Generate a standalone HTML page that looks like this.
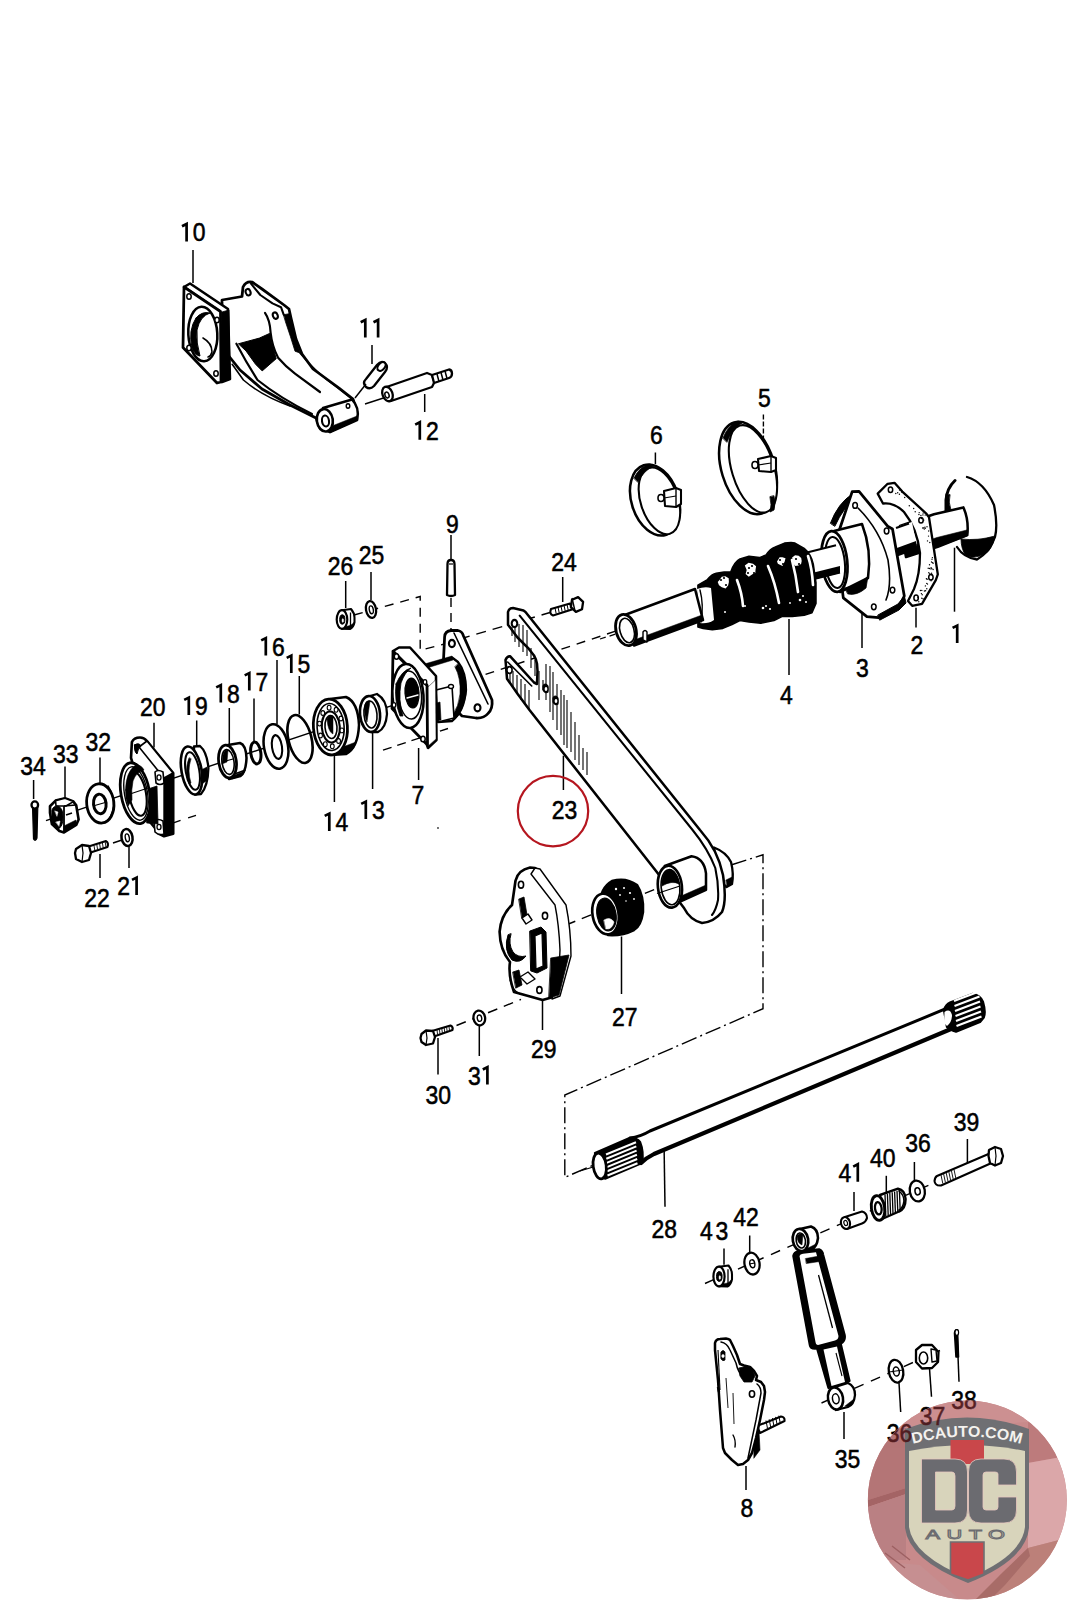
<!DOCTYPE html>
<html><head><meta charset="utf-8"><title>Rear axle parts diagram</title>
<style>
html,body{margin:0;padding:0;background:#fff;}
body{width:1067px;height:1600px;overflow:hidden;}
svg{display:block;}
text.l{font-family:"Liberation Sans",sans-serif;font-size:25.5px;text-anchor:middle;stroke:#000;stroke-width:0.55px;}
text.m{font-family:"Liberation Sans",sans-serif;font-size:25.5px;text-anchor:middle;stroke:#4a1518;stroke-width:0.55px;}
</style></head><body>
<svg width="1067" height="1600" viewBox="0 0 1067 1600">
<rect width="1067" height="1600" fill="#fff"/>
<line x1="193" y1="250" x2="193" y2="283" stroke="#000" stroke-width="1.5" stroke-linecap="butt"/>
<line x1="372" y1="345" x2="372" y2="364" stroke="#000" stroke-width="1.5" stroke-linecap="butt"/>
<line x1="424.7" y1="394" x2="424.7" y2="412" stroke="#000" stroke-width="1.5" stroke-linecap="butt"/>
<line x1="655.4" y1="452.5" x2="655.4" y2="464" stroke="#000" stroke-width="1.5" stroke-linecap="butt"/>
<line x1="954.5" y1="547.7" x2="954.5" y2="611.7" stroke="#000" stroke-width="1.5" stroke-linecap="butt"/>
<line x1="916" y1="607.8" x2="916" y2="627.4" stroke="#000" stroke-width="1.5" stroke-linecap="butt"/>
<line x1="862" y1="611.7" x2="862" y2="648" stroke="#000" stroke-width="1.5" stroke-linecap="butt"/>
<line x1="789" y1="619" x2="789" y2="675" stroke="#000" stroke-width="1.5" stroke-linecap="butt"/>
<line x1="451" y1="535" x2="451" y2="560" stroke="#000" stroke-width="1.5" stroke-linecap="butt"/>
<line x1="345.7" y1="581" x2="345.7" y2="608" stroke="#000" stroke-width="1.5" stroke-linecap="butt"/>
<line x1="371" y1="572" x2="371" y2="600" stroke="#000" stroke-width="1.5" stroke-linecap="butt"/>
<line x1="562.7" y1="577" x2="562.7" y2="602" stroke="#000" stroke-width="1.5" stroke-linecap="butt"/>
<line x1="277" y1="660" x2="277" y2="724" stroke="#000" stroke-width="1.5" stroke-linecap="butt"/>
<line x1="299.3" y1="676" x2="299.3" y2="714.5" stroke="#000" stroke-width="1.5" stroke-linecap="butt"/>
<line x1="254" y1="698.5" x2="254" y2="741.5" stroke="#000" stroke-width="1.5" stroke-linecap="butt"/>
<line x1="334.4" y1="756" x2="334.4" y2="802" stroke="#000" stroke-width="1.5" stroke-linecap="butt"/>
<line x1="372.6" y1="730" x2="372.6" y2="789" stroke="#000" stroke-width="1.5" stroke-linecap="butt"/>
<line x1="33.6" y1="780" x2="33.6" y2="799" stroke="#000" stroke-width="1.5" stroke-linecap="butt"/>
<line x1="65" y1="766.6" x2="65" y2="797" stroke="#000" stroke-width="1.5" stroke-linecap="butt"/>
<line x1="100" y1="757.6" x2="100" y2="783.5" stroke="#000" stroke-width="1.5" stroke-linecap="butt"/>
<line x1="154" y1="722.7" x2="154" y2="747.5" stroke="#000" stroke-width="1.5" stroke-linecap="butt"/>
<line x1="196.7" y1="720.5" x2="196.7" y2="747.5" stroke="#000" stroke-width="1.5" stroke-linecap="butt"/>
<line x1="229.3" y1="708" x2="229.3" y2="745" stroke="#000" stroke-width="1.5" stroke-linecap="butt"/>
<line x1="100" y1="854" x2="100" y2="878" stroke="#000" stroke-width="1.5" stroke-linecap="butt"/>
<line x1="129" y1="842" x2="129" y2="868" stroke="#000" stroke-width="1.5" stroke-linecap="butt"/>
<line x1="563.4" y1="755.7" x2="563.4" y2="790" stroke="#000" stroke-width="1.5" stroke-linecap="butt"/>
<line x1="621.5" y1="936.5" x2="621.5" y2="994" stroke="#000" stroke-width="1.5" stroke-linecap="butt"/>
<line x1="542.5" y1="1000" x2="542.5" y2="1030" stroke="#000" stroke-width="1.5" stroke-linecap="butt"/>
<line x1="438" y1="1038" x2="438" y2="1074.5" stroke="#000" stroke-width="1.5" stroke-linecap="butt"/>
<line x1="479.3" y1="1025.5" x2="479.3" y2="1056" stroke="#000" stroke-width="1.5" stroke-linecap="butt"/>
<line x1="664" y1="1141.5" x2="665" y2="1206.7" stroke="#000" stroke-width="1.5" stroke-linecap="butt"/>
<line x1="967.4" y1="1139" x2="967.4" y2="1166.6" stroke="#000" stroke-width="1.5" stroke-linecap="butt"/>
<line x1="914.4" y1="1162" x2="914.4" y2="1180" stroke="#000" stroke-width="1.5" stroke-linecap="butt"/>
<line x1="886.3" y1="1175.8" x2="886.3" y2="1193" stroke="#000" stroke-width="1.5" stroke-linecap="butt"/>
<line x1="854" y1="1192" x2="854" y2="1211" stroke="#000" stroke-width="1.5" stroke-linecap="butt"/>
<line x1="724" y1="1248.4" x2="724" y2="1264.8" stroke="#000" stroke-width="1.5" stroke-linecap="butt"/>
<line x1="749.7" y1="1235.5" x2="749.7" y2="1253" stroke="#000" stroke-width="1.5" stroke-linecap="butt"/>
<line x1="844" y1="1412" x2="844" y2="1439" stroke="#000" stroke-width="1.5" stroke-linecap="butt"/>
<line x1="746" y1="1466" x2="746" y2="1490" stroke="#000" stroke-width="1.5" stroke-linecap="butt"/>
<line x1="418.6" y1="748" x2="418.6" y2="780" stroke="#000" stroke-width="1.5" stroke-linecap="butt"/>
<line x1="899" y1="1383" x2="900.7" y2="1412" stroke="#000" stroke-width="1.5" stroke-linecap="butt"/>
<line x1="929.5" y1="1368.5" x2="931.5" y2="1396.8" stroke="#000" stroke-width="1.5" stroke-linecap="butt"/>
<line x1="957" y1="1330.5" x2="959" y2="1381.7" stroke="#000" stroke-width="1.5" stroke-linecap="butt"/>
<line x1="763.4" y1="414.6" x2="763.4" y2="440.7" stroke="#000" stroke-width="1.4" stroke-dasharray="5,2" stroke-linecap="butt"/>
<line x1="46" y1="820.6" x2="440" y2="689.5556" stroke="#000" stroke-width="1.4" stroke-linecap="butt"/>
<line x1="440" y1="689.5556" x2="616" y2="631.018" stroke="#000" stroke-width="1.4" stroke-dasharray="9,7" stroke-linecap="butt"/>
<line x1="113" y1="843" x2="128" y2="838" stroke="#000" stroke-width="1.4" stroke-linecap="butt"/>
<line x1="172" y1="823.3" x2="196" y2="815.3" stroke="#000" stroke-width="1.4" stroke-dasharray="9,8" stroke-linecap="butt"/>
<line x1="383" y1="750.2" x2="448" y2="728.5" stroke="#000" stroke-width="1.4" stroke-dasharray="9,6" stroke-linecap="butt"/>
<polyline points="354,615 420.2,596.5 420.2,650.2 444.6,644" fill="none" stroke="#000" stroke-width="1.4" stroke-dasharray="9,7"/>
<line x1="451" y1="598" x2="451" y2="688" stroke="#000" stroke-width="1.4" stroke-dasharray="9,6" stroke-linecap="butt"/>
<line x1="460" y1="639" x2="550" y2="612.5" stroke="#000" stroke-width="1.4" stroke-dasharray="10,7" stroke-linecap="butt"/>
<line x1="566" y1="925" x2="668" y2="884" stroke="#000" stroke-width="1.4" stroke-dasharray="10,7" stroke-linecap="butt"/>
<line x1="456.5" y1="1025.5" x2="521" y2="999.4" stroke="#000" stroke-width="1.4" stroke-dasharray="10,7" stroke-linecap="butt"/>
<polyline points="731,865 763,854.8 763,1008.7 564.8,1095 564.8,1177.4 594,1164.8" fill="none" stroke="#000" stroke-width="1.4" stroke-dasharray="16,4,2,4"/>
<line x1="705" y1="1283.5" x2="936" y2="1182" stroke="#000" stroke-width="1.4" stroke-dasharray="10,8" stroke-linecap="butt"/>
<line x1="821.5" y1="1403" x2="940" y2="1350.5" stroke="#000" stroke-width="1.4" stroke-dasharray="10,8" stroke-linecap="butt"/>
<path d="M222,300 L242,296.5 L243,287 Q246,281 252,282 L262,289 L284,305 L289,309 L291,318 L296,339 L302,354 L313,369 L339,388 L353,399 L357,412 L357,420 L330,432 L320,428 L316,418 L290,405 L262,389 L240,370 L228,355 L222,340 Z" fill="#fff" stroke="#000" stroke-width="2.76" stroke-linejoin="round" stroke-linecap="round" />
<path d="M238.7,343.7 L259.4,338.1 L269.7,333.4 Q271,340 272.5,345.6 L276.2,358.7 L262.2,370.9 L255.6,364.3 L246.2,351.2 Z" fill="#000" stroke="#000" stroke-width="1.0" stroke-linejoin="round" stroke-linecap="round" />
<path d="M283.7,314.7 L289.4,313.7 L293.1,326.9 L297.8,345.6 L300,353 L295,351.2 L290.3,336.2 L285.6,322.2 Z" fill="#000" stroke="#000" stroke-width="0.8" stroke-linejoin="round" stroke-linecap="round" />
<path d="M265,312.8 Q270,320 270.6,332.5 Q272,346 278.1,357.8 Q286,367 295,373.7 L320,392" fill="none" stroke="#000" stroke-width="2.18" stroke-linejoin="round" stroke-linecap="round" />
<path d="M236.4,343.7 Q246,362 257.5,380 Q280,398 312,414" fill="none" stroke="#000" stroke-width="2.18" stroke-linejoin="round" stroke-linecap="round" />
<path d="M232.2,364.3 L243.4,380 Q262,396 290,406" fill="none" stroke="#000" stroke-width="1.6" stroke-linejoin="round" stroke-linecap="round" />
<path d="M251,283.7 L260.3,295 L272.5,303.4 L281,307.2 L283.7,314.7" fill="none" stroke="#000" stroke-width="2.07" stroke-linejoin="round" stroke-linecap="round" />
<path d="M300,353 Q315,372 338,388 L352,399" fill="none" stroke="#000" stroke-width="1.6" stroke-linejoin="round" stroke-linecap="round" />
<ellipse cx="248.1" cy="292.2" rx="2.4" ry="3.3" transform="rotate(-20 248.1 292.2)" fill="#fff" stroke="#000" stroke-width="2.07"/>
<ellipse cx="275.3" cy="315.6" rx="2.4" ry="3.3" transform="rotate(-20 275.3 315.6)" fill="#fff" stroke="#000" stroke-width="2.07"/>
<path d="M323,408 L352,399.5 Q360,408 357,419 L330,431.5 Z" fill="#fff" stroke="#000" stroke-width="2.53" stroke-linejoin="round" stroke-linecap="round" />
<path d="M331,431 L357,420 L357,416 L332,426 Z" fill="#000" stroke="#000" stroke-width="0.5" stroke-linejoin="round" stroke-linecap="round" />
<ellipse cx="324.8" cy="420.3" rx="8" ry="11.3" transform="rotate(-8 324.8 420.3)" fill="#fff" stroke="#000" stroke-width="2.64"/>
<ellipse cx="325.5" cy="421" rx="3.5" ry="5.5" transform="rotate(-8 325.5 421)" fill="#fff" stroke="#000" stroke-width="2.07"/>
<ellipse cx="348" cy="406" rx="1.8" ry="2.2" transform="rotate(0 348 406)" fill="#fff" stroke="#000" stroke-width="1.4"/>
<path d="M184,287 L190,283.5 L228,309 L230,379 L222,382 L220,311.5 Z" fill="#fff" stroke="#000" stroke-width="2.53" stroke-linejoin="round" stroke-linecap="round" />
<path d="M222,312 L229,310 L230,379 L222,382 Z" fill="#000" stroke="#000" stroke-width="0.8" stroke-linejoin="round" stroke-linecap="round" />
<path d="M184,287 L220.5,311.5 L221,382 L217,383 L183,347.5 Z" fill="#fff" stroke="#000" stroke-width="2.76" stroke-linejoin="round" stroke-linecap="round" />
<ellipse cx="202.8" cy="334" rx="14.5" ry="27.2" transform="rotate(-3 202.8 334)" fill="#fff" stroke="#000" stroke-width="2.53"/>
<path d="M196,318 Q188,330 192,348 Q196,356 200,356 Q196,343 197,330 Q200,316 210,313 Q202,311 196,318 Z" fill="#000" stroke="#000" stroke-width="1" stroke-linejoin="round" stroke-linecap="round" />
<path d="M203,338 Q212,343 212,352 Q211,356 208,357" fill="none" stroke="#000" stroke-width="1.6" stroke-linejoin="round" stroke-linecap="round" />
<ellipse cx="189" cy="296.5" rx="2.2" ry="2.8" transform="rotate(0 189 296.5)" fill="#fff" stroke="#000" stroke-width="1.5"/>
<ellipse cx="217" cy="320" rx="2.2" ry="2.8" transform="rotate(0 217 320)" fill="#fff" stroke="#000" stroke-width="1.5"/>
<ellipse cx="189" cy="348" rx="2.2" ry="2.8" transform="rotate(0 189 348)" fill="#fff" stroke="#000" stroke-width="1.5"/>
<ellipse cx="216" cy="373.5" rx="2.2" ry="2.8" transform="rotate(0 216 373.5)" fill="#fff" stroke="#000" stroke-width="1.5"/>
<path d="M366,379 L377,365 Q381,360 385,363 Q389,367 385,372 L374,386 Q370,390 366,387 Q362,383 366,379 Z" fill="#fff" stroke="#000" stroke-width="2.3" stroke-linejoin="round" stroke-linecap="round" />
<ellipse cx="381.5" cy="366.5" rx="3.2" ry="5" transform="rotate(40 381.5 366.5)" fill="#fff" stroke="#000" stroke-width="2.07"/>
<line x1="366" y1="384" x2="355" y2="398" stroke="#000" stroke-width="1.5" stroke-linecap="butt"/>
<path d="M386.5,387 L427,373 L432,375 L434.5,382 L432,387 L391,401 Z" fill="#fff" stroke="#000" stroke-width="2.3" stroke-linejoin="round" stroke-linecap="round" />
<path d="M432,375 L449,369.5 Q452,370 452,373.5 Q452,377 449,378 L434,383 Z" fill="#fff" stroke="#000" stroke-width="2.3" stroke-linejoin="round" stroke-linecap="round" />
<line x1="437" y1="374" x2="439" y2="381.5" stroke="#000" stroke-width="1.5" stroke-linecap="butt"/>
<line x1="441" y1="372.5" x2="443" y2="380" stroke="#000" stroke-width="1.5" stroke-linecap="butt"/>
<line x1="445" y1="371" x2="447" y2="378.5" stroke="#000" stroke-width="1.5" stroke-linecap="butt"/>
<ellipse cx="387.5" cy="394" rx="5" ry="7.5" transform="rotate(-20 387.5 394)" fill="#fff" stroke="#000" stroke-width="2.3"/>
<ellipse cx="387" cy="395" rx="2" ry="3" transform="rotate(-20 387 395)" fill="#fff" stroke="#000" stroke-width="1.5"/>
<line x1="365" y1="404" x2="385" y2="397.5" stroke="#000" stroke-width="1.4" stroke-linecap="butt"/>
<ellipse cx="655" cy="500" rx="23.5" ry="36.5" transform="rotate(-18 655 500)" fill="#fff" stroke="#000" stroke-width="2.53"/>
<ellipse cx="659.4" cy="500.8" rx="18.7" ry="34.5" transform="rotate(-18 659.4 500.8)" fill="#fff" stroke="#000" stroke-width="2.07"/>
<path d="M634,478 Q640,466 650,464 L654,466 Q644,470 638,482 Z" fill="#000" stroke="#000" stroke-width="0.8" stroke-linejoin="round" stroke-linecap="round" />
<path d="M664,491 L676,488 L681,490 L681,504 L676,507 L665,506 Z" fill="#fff" stroke="#000" stroke-width="2.07" stroke-linejoin="round" stroke-linecap="round" />
<line x1="676" y1="488" x2="676" y2="507" stroke="#000" stroke-width="1.4" stroke-linecap="butt"/>
<ellipse cx="661" cy="498" rx="3" ry="3.5" transform="rotate(0 661 498)" fill="#fff" stroke="#000" stroke-width="1.6"/>
<line x1="664" y1="498" x2="676" y2="496" stroke="#000" stroke-width="1.2" stroke-linecap="butt"/>
<ellipse cx="748" cy="468" rx="26.5" ry="47.5" transform="rotate(-17 748 468)" fill="#fff" stroke="#000" stroke-width="2.53"/>
<ellipse cx="752.95" cy="468.9" rx="21.1" ry="45.25" transform="rotate(-17 752.95 468.9)" fill="#fff" stroke="#000" stroke-width="2.07"/>
<path d="M723,438 Q728,425 738,421 L742,423 Q732,429 727,442 Z" fill="#000" stroke="#000" stroke-width="0.8" stroke-linejoin="round" stroke-linecap="round" />
<path d="M770,497 Q772,505 770,512 L774,510 Q776,503 774,496 Z" fill="#000" stroke="#000" stroke-width="0.8" stroke-linejoin="round" stroke-linecap="round" />
<path d="M758,459 L771,456 L776,458 L776,470 L771,472 L759,471 Z" fill="#fff" stroke="#000" stroke-width="2.07" stroke-linejoin="round" stroke-linecap="round" />
<line x1="771" y1="456" x2="771" y2="472" stroke="#000" stroke-width="1.4" stroke-linecap="butt"/>
<ellipse cx="755" cy="465" rx="3" ry="3.5" transform="rotate(0 755 465)" fill="#fff" stroke="#000" stroke-width="1.6"/>
<line x1="758" y1="465" x2="771" y2="463" stroke="#000" stroke-width="1.2" stroke-linecap="butt"/>
<path d="M946,494 Q950,482 967,477 Q984,482 994,505 Q998,525 995,537 Q990,552 977,559.5 Q964,558 957,547 L950,520 Z" fill="#fff" stroke="none" stroke-width="0" stroke-linejoin="round" stroke-linecap="round" />
<path d="M967,477 Q984,482 994,505 Q998,525 995,537 Q990,552 977,559.5 Q964,558 957,547" fill="none" stroke="#000" stroke-width="2.3" stroke-linejoin="round" stroke-linecap="round" />
<path d="M955,480.5 Q947,488 946,500 L946,512" fill="none" stroke="#000" stroke-width="2.99" stroke-linejoin="round" stroke-linecap="round" />
<path d="M961,539 Q978,541 995,536 Q992,550 985,554 Q975,559 966,556 Q961,549 961,539 Z" fill="#000" stroke="#000" stroke-width="0.8" stroke-linejoin="round" stroke-linecap="round" />
<path d="M946,494 Q944,502 948,512 L951,510 Q948,502 950,495 Z" fill="#000" stroke="#000" stroke-width="0.8" stroke-linejoin="round" stroke-linecap="round" />
<path d="M900,526 L934,514.3 L963.4,507.4 Q969,520 967.3,535 L937.8,546.8 L906,557 Z" fill="#fff" stroke="#000" stroke-width="2.53" stroke-linejoin="round" stroke-linecap="round" />
<path d="M906,548 L937,537.5 L967,530 L967.3,536 L937.8,546.8 L906,557 Z" fill="#000" stroke="#000" stroke-width="0.6" stroke-linejoin="round" stroke-linecap="round" />
<path d="M877.7,493.6 L887.6,483.8 L894.5,482.8 L902.3,491.6 L926,513.3 L929,517.2 L937.8,574.3 L935.8,580.2 L922,603.8 L912.2,605.8 L908,601 L914,589 Q920,575 920,553 Q917,528 904,512 Q894,502 883,503.5 Z" fill="#fff" stroke="#000" stroke-width="2.3" stroke-linejoin="round" stroke-linecap="round" fill-rule="evenodd"/>
<ellipse cx="890.5" cy="489.7" rx="2.2" ry="2.8" transform="rotate(0 890.5 489.7)" fill="#fff" stroke="#000" stroke-width="1.5"/>
<ellipse cx="921" cy="520.2" rx="2.2" ry="2.8" transform="rotate(0 921 520.2)" fill="#fff" stroke="#000" stroke-width="1.5"/>
<ellipse cx="930.9" cy="577.3" rx="2.2" ry="2.8" transform="rotate(0 930.9 577.3)" fill="#fff" stroke="#000" stroke-width="1.5"/>
<ellipse cx="916.1" cy="597.9" rx="2.2" ry="2.8" transform="rotate(0 916.1 597.9)" fill="#fff" stroke="#000" stroke-width="1.5"/>
<circle cx="922.9" cy="514.9" r="0.7" fill="#000"/>
<circle cx="931.1" cy="567.8" r="0.7" fill="#000"/>
<circle cx="899.5" cy="490.0" r="0.7" fill="#000"/>
<circle cx="925.2" cy="515.1" r="0.7" fill="#000"/>
<circle cx="924.4" cy="591.0" r="0.7" fill="#000"/>
<circle cx="913.7" cy="508.5" r="0.7" fill="#000"/>
<circle cx="933.1" cy="563.3" r="0.7" fill="#000"/>
<circle cx="904.7" cy="497.5" r="0.7" fill="#000"/>
<circle cx="922.8" cy="528.0" r="0.7" fill="#000"/>
<circle cx="932.4" cy="557.6" r="0.7" fill="#000"/>
<circle cx="931.1" cy="580.8" r="0.7" fill="#000"/>
<circle cx="925.6" cy="590.7" r="0.7" fill="#000"/>
<circle cx="920.4" cy="590.5" r="0.7" fill="#000"/>
<circle cx="923.1" cy="513.1" r="0.7" fill="#000"/>
<circle cx="928.8" cy="572.7" r="0.7" fill="#000"/>
<circle cx="927.5" cy="540.9" r="0.7" fill="#000"/>
<circle cx="933.1" cy="569.5" r="0.7" fill="#000"/>
<circle cx="923.0" cy="598.7" r="0.7" fill="#000"/>
<circle cx="927.2" cy="579.3" r="0.7" fill="#000"/>
<circle cx="921.8" cy="598.3" r="0.7" fill="#000"/>
<circle cx="926.8" cy="583.4" r="0.7" fill="#000"/>
<circle cx="929.5" cy="564.7" r="0.7" fill="#000"/>
<circle cx="926.8" cy="588.8" r="0.7" fill="#000"/>
<circle cx="925.4" cy="585.9" r="0.7" fill="#000"/>
<circle cx="927.0" cy="526.8" r="0.7" fill="#000"/>
<circle cx="901.6" cy="492.0" r="0.7" fill="#000"/>
<circle cx="927.5" cy="584.1" r="0.7" fill="#000"/>
<circle cx="918.8" cy="601.8" r="0.7" fill="#000"/>
<circle cx="923.4" cy="527.9" r="0.7" fill="#000"/>
<circle cx="897.7" cy="492.8" r="0.7" fill="#000"/>
<circle cx="928.2" cy="568.3" r="0.7" fill="#000"/>
<circle cx="922.2" cy="594.8" r="0.7" fill="#000"/>
<circle cx="921.4" cy="593.6" r="0.7" fill="#000"/>
<circle cx="932.5" cy="562.6" r="0.7" fill="#000"/>
<circle cx="931.8" cy="568.6" r="0.7" fill="#000"/>
<circle cx="931.5" cy="562.0" r="0.7" fill="#000"/>
<circle cx="921.4" cy="518.5" r="0.7" fill="#000"/>
<circle cx="932.0" cy="559.2" r="0.7" fill="#000"/>
<circle cx="929.8" cy="542.5" r="0.7" fill="#000"/>
<circle cx="930.9" cy="568.9" r="0.7" fill="#000"/>
<circle cx="929.8" cy="573.8" r="0.7" fill="#000"/>
<circle cx="928.5" cy="536.1" r="0.7" fill="#000"/>
<circle cx="895.8" cy="493.5" r="0.7" fill="#000"/>
<circle cx="918.0" cy="597.5" r="0.7" fill="#000"/>
<circle cx="929.4" cy="568.5" r="0.7" fill="#000"/>
<circle cx="925.2" cy="528.4" r="0.7" fill="#000"/>
<circle cx="924.9" cy="527.3" r="0.7" fill="#000"/>
<circle cx="899.4" cy="494.3" r="0.7" fill="#000"/>
<circle cx="924.3" cy="529.1" r="0.7" fill="#000"/>
<circle cx="920.9" cy="515.4" r="0.7" fill="#000"/>
<circle cx="926.4" cy="578.7" r="0.7" fill="#000"/>
<circle cx="928.7" cy="531.0" r="0.7" fill="#000"/>
<circle cx="921.8" cy="590.4" r="0.7" fill="#000"/>
<circle cx="931.9" cy="574.7" r="0.7" fill="#000"/>
<circle cx="918.9" cy="514.5" r="0.7" fill="#000"/>
<circle cx="919.2" cy="512.6" r="0.7" fill="#000"/>
<circle cx="915.2" cy="511.7" r="0.7" fill="#000"/>
<circle cx="931.6" cy="573.3" r="0.7" fill="#000"/>
<circle cx="909.3" cy="505.8" r="0.7" fill="#000"/>
<circle cx="923.8" cy="520.1" r="0.7" fill="#000"/>
<path d="M884,531 L912,522 L917,548 L889,558 Z" fill="#fff" stroke="none" stroke-width="0" stroke-linejoin="round" stroke-linecap="round" />
<line x1="896" y1="528" x2="909" y2="523.5" stroke="#000" stroke-width="2.2" stroke-linecap="butt"/>
<path d="M886,552 L916,541 L917.5,549 L888,560 Z" fill="#000" stroke="none" stroke-width="0" stroke-linejoin="round" stroke-linecap="round" />
<path d="M830.5,523 Q838,503 853,493.6 L856,497 Q843,508 835,526 Z" fill="#000" stroke="#000" stroke-width="1" stroke-linejoin="round" stroke-linecap="round" />
<path d="M852.2,491.6 L859,491.3 L887.6,526.1 L892.5,529 L904.3,596 L898.4,607.8 L878.7,617.6 L866.9,616.6 L843.3,597.9 L836,540 Z" fill="#fff" stroke="#000" stroke-width="2.76" stroke-linejoin="round" stroke-linecap="round" />
<path d="M878,615 L898,604 L904.3,596 L906,603 L899,610 L880,620 Z" fill="#000" stroke="#000" stroke-width="1" stroke-linejoin="round" stroke-linecap="round" />
<ellipse cx="855.1" cy="505.4" rx="2.3" ry="2.9" transform="rotate(0 855.1 505.4)" fill="#fff" stroke="#000" stroke-width="1.5"/>
<ellipse cx="886.6" cy="531" rx="2.3" ry="2.9" transform="rotate(0 886.6 531)" fill="#fff" stroke="#000" stroke-width="1.5"/>
<ellipse cx="873.8" cy="606.8" rx="2.3" ry="2.9" transform="rotate(0 873.8 606.8)" fill="#fff" stroke="#000" stroke-width="1.5"/>
<ellipse cx="892.5" cy="590.1" rx="2.3" ry="2.9" transform="rotate(0 892.5 590.1)" fill="#fff" stroke="#000" stroke-width="1.5"/>
<path d="M858,508 Q880,530 888,560 Q892,585 886,600" fill="none" stroke="#000" stroke-width="1.6" stroke-linejoin="round" stroke-linecap="round" />
<path d="M834,531 L862,524 Q872,550 868,578 L840,592 Z" fill="#fff" stroke="#000" stroke-width="2.53" stroke-linejoin="round" stroke-linecap="round" />
<path d="M845,588 Q860,585 868,576 L866,588 Q857,596 848,594 Z" fill="#000" stroke="#000" stroke-width="0.8" stroke-linejoin="round" stroke-linecap="round" />
<ellipse cx="834.4" cy="561.5" rx="12.8" ry="30.5" transform="rotate(-6 834.4 561.5)" fill="#fff" stroke="#000" stroke-width="2.76"/>
<ellipse cx="835" cy="562.5" rx="9.8" ry="25.6" transform="rotate(-6 835 562.5)" fill="#fff" stroke="#000" stroke-width="2.07"/>
<path d="M808,552.3 L836,545 L840,573 L812,580 Z" fill="#fff" stroke="none" stroke-width="0" stroke-linejoin="round" stroke-linecap="round" />
<line x1="808" y1="552.3" x2="836" y2="545.3" stroke="#000" stroke-width="2.2" stroke-linecap="butt"/>
<line x1="812" y1="579.5" x2="840" y2="572.5" stroke="#000" stroke-width="2.2" stroke-linecap="butt"/>
<path d="M812,573 L840,566 L840,573 L812,580 Z" fill="#000" stroke="none" stroke-width="0" stroke-linejoin="round" stroke-linecap="round" />
<path d="M697.9,585.1 L707,580 Q712,574 716.2,573.3 L724.1,572 L730.7,572 Q734,562 739.9,558.9 L749,556.2 L759.5,557.6 L766.1,554.9 Q770,549 775.3,547 L784.5,543.1 L791,542.5 L795,543.1 L804.2,548.4 Q811,554 813.3,564.1 L816,582.5 L816,603.5 L812,612.7 L804.2,615.3 L792.3,616.6 L781.9,616.6 L774,620.5 L760.9,623.2 L749,621.9 L739.9,620.5 L732,624.5 L722.8,628.4 L712.3,629.7 L703.1,628.4 L697.9,627.1 Z" fill="#000" stroke="#000" stroke-width="1.5" stroke-linejoin="round" stroke-linecap="round" />
<path d="M737,580 Q742,593 743,606" fill="none" stroke="#fff" stroke-width="2.64" stroke-linejoin="round" stroke-linecap="round" />
<path d="M768,566 Q775,582 779,603" fill="none" stroke="#fff" stroke-width="2.64" stroke-linejoin="round" stroke-linecap="round" />
<path d="M792,560 Q796,575 798,592" fill="none" stroke="#fff" stroke-width="2.64" stroke-linejoin="round" stroke-linecap="round" />
<path d="M808,556 Q812,568 813,585" fill="none" stroke="#fff" stroke-width="2.64" stroke-linejoin="round" stroke-linecap="round" />
<polygon points="728.9,582.0 728.1,585.4 725.6,588.6 721.8,587.2 719.0,585.3 717.7,582.0 719.9,579.4 721.8,576.7 725.3,576.3 728.7,578.2" fill="#fff"/>
<polygon points="755.5,570.0 755.3,573.1 752.4,574.3 748.8,576.7 745.6,573.9 746.7,570.0 744.8,565.5 748.6,562.8 753.0,563.8 756.1,566.3" fill="#fff"/>
<polygon points="784.7,561.5 783.7,563.5 782.5,566.0 779.9,564.8 777.9,563.8 777.0,561.5 778.3,559.5 779.6,557.2 782.4,557.2 785.5,558.2" fill="#fff"/>
<polygon points="801.7,561.0 801.1,564.0 798.4,565.4 795.4,565.9 793.3,563.7 792.9,561.0 792.1,557.5 795.1,555.3 798.7,555.7 801.2,557.9" fill="#fff"/>
<circle cx="721" cy="580" r="1.1" fill="#000"/>
<circle cx="726" cy="585" r="1.1" fill="#000"/>
<circle cx="724" cy="578" r="1.1" fill="#000"/>
<circle cx="749" cy="568" r="1.1" fill="#000"/>
<circle cx="754" cy="573" r="1.1" fill="#000"/>
<circle cx="752" cy="566" r="1.1" fill="#000"/>
<circle cx="748" cy="573" r="1.1" fill="#000"/>
<circle cx="780" cy="560" r="1.1" fill="#000"/>
<circle cx="783" cy="564" r="1.1" fill="#000"/>
<circle cx="796" cy="559" r="1.1" fill="#000"/>
<circle cx="799" cy="564" r="1.1" fill="#000"/>
<circle cx="763" cy="608" r="1.3" fill="#fff"/>
<circle cx="766" cy="606" r="1.0" fill="#fff"/>
<circle cx="770" cy="609" r="1.1" fill="#fff"/>
<circle cx="800" cy="600" r="1.3" fill="#fff"/>
<circle cx="803" cy="596" r="1.0" fill="#fff"/>
<circle cx="806" cy="602" r="1.0" fill="#fff"/>
<circle cx="745" cy="606" r="1.0" fill="#fff"/>
<circle cx="725" cy="612" r="1.0" fill="#fff"/>
<circle cx="790" cy="603" r="0.9" fill="#fff"/>
<path d="M697,589 Q705,586 711,588 L714,620 Q708,624 700,623 Z" fill="#fff" stroke="none" stroke-width="0" stroke-linejoin="round" stroke-linecap="round" />
<path d="M700,590 Q704,605 701,622" fill="none" stroke="#000" stroke-width="1.4" stroke-linejoin="round" stroke-linecap="round" />
<path d="M622,616 L695,589 L703,620 L634,645.5 Z" fill="#fff" stroke="#000" stroke-width="2.53" stroke-linejoin="round" stroke-linecap="round" />
<path d="M634,640 L702,615 L703,620 L634,645.5 Z" fill="#000" stroke="#000" stroke-width="0.5" stroke-linejoin="round" stroke-linecap="round" />
<ellipse cx="626" cy="630" rx="10" ry="16" transform="rotate(-15 626 630)" fill="#fff" stroke="#000" stroke-width="2.76"/>
<ellipse cx="627" cy="630.5" rx="7" ry="12.5" transform="rotate(-15 627 630.5)" fill="#fff" stroke="#000" stroke-width="1.6"/>
<path d="M643,640 L643,632 Q645,629 647,632 L647,642 Z" fill="#fff" stroke="#000" stroke-width="1.4" stroke-linejoin="round" stroke-linecap="round" />
<line x1="600" y1="639" x2="616" y2="634" stroke="#000" stroke-width="1.3" stroke-dasharray="6,4" stroke-linecap="butt"/>
<path d="M447.5,564 Q447.5,560 451,560 Q454.5,560 454.5,564 L455,595 Q451,597 447,595 Z" fill="#fff" stroke="#000" stroke-width="2.3" stroke-linejoin="round" stroke-linecap="round" />
<line x1="449" y1="564" x2="453" y2="564" stroke="#000" stroke-width="1.2" stroke-linecap="butt"/>
<path d="M342.0,610.2 L351.0,609.0 Q354.5,613.0 354.5,617.6 L354.5,622.3 Q353.5,627.4 350.0,629.0 L342.0,628.8 Z" fill="#fff" stroke="#000" stroke-width="2.07" stroke-linejoin="round" stroke-linecap="round" />
<line x1="350.5" y1="612.5" x2="350.5" y2="626.5" stroke="#000" stroke-width="1.3" stroke-linecap="butt"/>
<path d="M344.0,626.9 L350.0,625.5 Q353.0,624.1 354.0,622.3 Q353.5,627.4 350.0,628.8 L342.0,628.8 Z" fill="#000" stroke="#000" stroke-width="0.5" stroke-linejoin="round" stroke-linecap="round" />
<ellipse cx="342" cy="619.5" rx="5.3" ry="9.3" transform="rotate(0 342 619.5)" fill="#fff" stroke="#000" stroke-width="2.18"/>
<ellipse cx="342.3" cy="619.5" rx="2.6" ry="4.7" transform="rotate(0 342.3 619.5)" fill="#000" stroke="#000" stroke-width="1.0"/>
<ellipse cx="342.8" cy="620.5" rx="0.8" ry="1.9" transform="rotate(0 342.8 620.5)" fill="#fff" stroke="#fff" stroke-width="0.4"/>
<ellipse cx="371" cy="609.5" rx="5" ry="8.5" transform="rotate(-10 371 609.5)" fill="#fff" stroke="#000" stroke-width="2.3"/>
<ellipse cx="371.3" cy="609.8" rx="2" ry="4" transform="rotate(-10 371.3 609.8)" fill="#fff" stroke="#000" stroke-width="1.4"/>
<path d="M551,609 L570,603.5 L572,609.5 L553,615.5 Q549,614 551,609 Z" fill="#fff" stroke="#000" stroke-width="2.07" stroke-linejoin="round" stroke-linecap="round" />
<line x1="555" y1="608.0" x2="556.2" y2="613.6" stroke="#000" stroke-width="1.0" stroke-linecap="butt"/>
<line x1="558" y1="607.1" x2="559.2" y2="612.7" stroke="#000" stroke-width="1.0" stroke-linecap="butt"/>
<line x1="561" y1="606.2" x2="562.2" y2="611.8000000000001" stroke="#000" stroke-width="1.0" stroke-linecap="butt"/>
<line x1="564" y1="605.3" x2="565.2" y2="610.9" stroke="#000" stroke-width="1.0" stroke-linecap="butt"/>
<line x1="567" y1="604.4" x2="568.2" y2="610.0" stroke="#000" stroke-width="1.0" stroke-linecap="butt"/>
<polygon points="582.0,609.3 575.9,611.9 570.9,607.1 572.0,599.7 578.1,597.1 583.1,601.9" fill="#fff" stroke="#000" stroke-width="2.3" stroke-linejoin="round"/>
<line x1="572" y1="598" x2="575" y2="611" stroke="#000" stroke-width="1.4" stroke-linecap="butt"/>
<path d="M444.6,637 Q445,631 451,630.5 L458,630.5 Q462,631 463.5,636 L492,700 Q493,709 488,713.5 Q484,718.5 476,718 L462,716 L446,700 L443.5,660 Z" fill="#fff" stroke="#000" stroke-width="2.76" stroke-linejoin="round" stroke-linecap="round" />
<path d="M454,633 L488,704" fill="none" stroke="#000" stroke-width="1.6" stroke-linejoin="round" stroke-linecap="round" />
<ellipse cx="451.9" cy="643.5" rx="3" ry="3.6" transform="rotate(0 451.9 643.5)" fill="#fff" stroke="#000" stroke-width="2.07"/>
<ellipse cx="477.5" cy="707.8" rx="3" ry="3.6" transform="rotate(0 477.5 707.8)" fill="#fff" stroke="#000" stroke-width="2.07"/>
<path d="M420,667 L452,657.5 L458,662 Q466,672 466,690 Q464,712 452,721 L438,722 L428,712 Z" fill="#fff" stroke="#000" stroke-width="2.3" stroke-linejoin="round" stroke-linecap="round" />
<path d="M421,665 L452,656 L453,660 L422,669.5 Z" fill="#000" stroke="#000" stroke-width="0.5" stroke-linejoin="round" stroke-linecap="round" />
<path d="M458,664 Q468,676 466,694 Q463,712 454,720 L452,716 Q459,706 460,694 Q461,678 455,667 Z" fill="#000" stroke="#000" stroke-width="0.6" stroke-linejoin="round" stroke-linecap="round" />
<path d="M436,690 L452,686 L454,718 L438,722 Z" fill="#fff" stroke="#000" stroke-width="1.6" stroke-linejoin="round" stroke-linecap="round" />
<path d="M430,705 L440,702 L441,720 L432,722 Z" fill="#000" stroke="#000" stroke-width="0.6" stroke-linejoin="round" stroke-linecap="round" />
<ellipse cx="451" cy="686.5" rx="2.5" ry="2" transform="rotate(0 451 686.5)" fill="#fff" stroke="#000" stroke-width="1.4"/>
<path d="M393,651 L399,647.5 L410,647.5 L436,676 L436.5,740 L428,748 L427,745 L427,685 Z" fill="#fff" stroke="#000" stroke-width="2.53" stroke-linejoin="round" stroke-linecap="round" />
<path d="M428,687 L435.5,680 L436,739 L428,746 Z" fill="#fff" stroke="#000" stroke-width="0.5" stroke-linejoin="round" stroke-linecap="round" />
<path d="M393,651.5 L427,685.5 L427.5,745 L392,708.5 Z" fill="#fff" stroke="#000" stroke-width="2.76" stroke-linejoin="round" stroke-linecap="round" />
<ellipse cx="408" cy="696" rx="15.5" ry="32" transform="rotate(-4 408 696)" fill="#fff" stroke="#000" stroke-width="2.53"/>
<path d="M396,684 Q394,700 400,716 L403,716 Q398,700 401,683 Q405,672 411,668 Q402,670 396,684 Z" fill="#000" stroke="#000" stroke-width="0.8" stroke-linejoin="round" stroke-linecap="round" />
<ellipse cx="412" cy="693" rx="7" ry="15" transform="rotate(-4 412 693)" fill="#000" stroke="#000" stroke-width="1.2"/>
<path d="M407,698 L418,695" fill="none" stroke="#fff" stroke-width="1.3" stroke-linejoin="round" stroke-linecap="round" />
<ellipse cx="410" cy="695" rx="11.5" ry="24" transform="rotate(-4 410 695)" fill="none" stroke="#000" stroke-width="1.5"/>
<ellipse cx="396.5" cy="656.5" rx="2.2" ry="2.8" transform="rotate(0 396.5 656.5)" fill="#fff" stroke="#000" stroke-width="1.5"/>
<ellipse cx="423" cy="739" rx="2.2" ry="2.8" transform="rotate(0 423 739)" fill="#fff" stroke="#000" stroke-width="1.5"/>
<ellipse cx="425" cy="682" rx="1.8" ry="2.4" transform="rotate(0 425 682)" fill="#fff" stroke="#000" stroke-width="1.3"/>
<ellipse cx="394" cy="705" rx="1.8" ry="2.4" transform="rotate(0 394 705)" fill="#fff" stroke="#000" stroke-width="1.3"/>
<path d="M714,847.5 Q726,852 731,862 Q734,874 732,884 L726.6,887 L718,880 Z" fill="#fff" stroke="#000" stroke-width="2.3" stroke-linejoin="round" stroke-linecap="round" />
<path d="M726,880 L732,877 L732,884 L727,887 Z" fill="#000" stroke="#000" stroke-width="0.5" stroke-linejoin="round" stroke-linecap="round" />
<path d="M508,612 Q509,608 513,608 L523.5,610.5 L525.5,612 L700,830 Q718,850 723,875 Q727,900 722,912 Q714,922 702,923 Q690,920 684,908 L657,872.3 L529.5,710 L517.5,693.7 L507,678.7 L505.5,660 Q507,656 510,656.2 L534,682.5 L537,684 L537.5,671 L537,663.7 Q536,659 534,655.5 L528.7,648.7 L517.5,637.5 L508,624.7 Z" fill="#fff" stroke="#000" stroke-width="2.53" stroke-linejoin="round" stroke-linecap="round" />
<path d="M519.7,615.7 L692.6,830 Q708,849 715.3,868 Q719,885 718,900 Q716,910 712,915" fill="none" stroke="#000" stroke-width="2.07" stroke-linejoin="round" stroke-linecap="round" />
<path d="M507.7,662 L531.7,686" fill="none" stroke="#000" stroke-width="1.6" stroke-linejoin="round" stroke-linecap="round" />
<line x1="512" y1="627" x2="512" y2="636" stroke="#000" stroke-width="1.1" stroke-linecap="butt"/>
<line x1="515" y1="627" x2="515" y2="642" stroke="#000" stroke-width="1.1" stroke-linecap="butt"/>
<line x1="519" y1="624" x2="519" y2="647" stroke="#000" stroke-width="1.1" stroke-linecap="butt"/>
<line x1="523" y1="625" x2="523" y2="652" stroke="#000" stroke-width="1.1" stroke-linecap="butt"/>
<line x1="527" y1="630" x2="527" y2="656" stroke="#000" stroke-width="1.1" stroke-linecap="butt"/>
<line x1="531" y1="648" x2="531" y2="668" stroke="#000" stroke-width="1.1" stroke-linecap="butt"/>
<line x1="535" y1="660" x2="535" y2="676" stroke="#000" stroke-width="1.1" stroke-linecap="butt"/>
<line x1="539" y1="671" x2="539" y2="700" stroke="#000" stroke-width="1.1" stroke-linecap="butt"/>
<line x1="543" y1="680" x2="543" y2="690" stroke="#000" stroke-width="1.1" stroke-linecap="butt"/>
<line x1="546" y1="664" x2="546" y2="700" stroke="#000" stroke-width="1.1" stroke-linecap="butt"/>
<line x1="550" y1="666" x2="550" y2="712" stroke="#000" stroke-width="1.1" stroke-linecap="butt"/>
<line x1="553" y1="672" x2="553" y2="720" stroke="#000" stroke-width="1.1" stroke-linecap="butt"/>
<line x1="557" y1="684" x2="557" y2="730" stroke="#000" stroke-width="1.1" stroke-linecap="butt"/>
<line x1="561" y1="690" x2="561" y2="735" stroke="#000" stroke-width="1.1" stroke-linecap="butt"/>
<line x1="564" y1="695" x2="564" y2="745" stroke="#000" stroke-width="1.1" stroke-linecap="butt"/>
<line x1="567" y1="700" x2="567" y2="748" stroke="#000" stroke-width="1.1" stroke-linecap="butt"/>
<line x1="571" y1="712" x2="571" y2="752" stroke="#000" stroke-width="1.1" stroke-linecap="butt"/>
<line x1="575" y1="722" x2="575" y2="760" stroke="#000" stroke-width="1.1" stroke-linecap="butt"/>
<line x1="579" y1="735" x2="579" y2="765" stroke="#000" stroke-width="1.1" stroke-linecap="butt"/>
<line x1="583" y1="748" x2="583" y2="770" stroke="#000" stroke-width="1.1" stroke-linecap="butt"/>
<line x1="587" y1="752" x2="587" y2="775" stroke="#000" stroke-width="1.1" stroke-linecap="butt"/>
<line x1="510" y1="667" x2="510" y2="682" stroke="#000" stroke-width="1.1" stroke-linecap="butt"/>
<line x1="513" y1="671" x2="513" y2="688" stroke="#000" stroke-width="1.1" stroke-linecap="butt"/>
<line x1="517" y1="675" x2="517" y2="694" stroke="#000" stroke-width="1.1" stroke-linecap="butt"/>
<line x1="521" y1="679" x2="521" y2="700" stroke="#000" stroke-width="1.1" stroke-linecap="butt"/>
<line x1="525" y1="684" x2="525" y2="705" stroke="#000" stroke-width="1.1" stroke-linecap="butt"/>
<line x1="529" y1="690" x2="529" y2="710" stroke="#000" stroke-width="1.1" stroke-linecap="butt"/>
<ellipse cx="514.5" cy="623.5" rx="2.8" ry="3.6" transform="rotate(0 514.5 623.5)" fill="#fff" stroke="#000" stroke-width="2.07"/>
<ellipse cx="509.5" cy="670" rx="2.6" ry="3.4" transform="rotate(0 509.5 670)" fill="#fff" stroke="#000" stroke-width="1.6"/>
<path d="M543,686 Q545,682 548,686 L548,692 Q545,694 543,690 Z" fill="#000" stroke="#000" stroke-width="1.2" stroke-linejoin="round" stroke-linecap="round" />
<path d="M553,698 Q555,694 558,698 L558,704 Q555,706 553,702 Z" fill="#000" stroke="#000" stroke-width="1.2" stroke-linejoin="round" stroke-linecap="round" />
<ellipse cx="546" cy="689" rx="2" ry="2.6" transform="rotate(0 546 689)" fill="#fff" stroke="#000" stroke-width="1.2"/>
<ellipse cx="556" cy="701" rx="2" ry="2.6" transform="rotate(0 556 701)" fill="#fff" stroke="#000" stroke-width="1.2"/>
<path d="M664.7,866 L691.5,856.3 Q704,858 706,873.3 L706,889.8 L681.2,901.1 Z" fill="#fff" stroke="#000" stroke-width="2.53" stroke-linejoin="round" stroke-linecap="round" />
<path d="M681,896 L706,885 L706,889.8 L681.2,901.1 Z" fill="#000" stroke="#000" stroke-width="0.5" stroke-linejoin="round" stroke-linecap="round" />
<ellipse cx="669.9" cy="886.7" rx="12" ry="21" transform="rotate(-6 669.9 886.7)" fill="#fff" stroke="#000" stroke-width="2.64"/>
<ellipse cx="670.5" cy="887.2" rx="9.3" ry="17.6" transform="rotate(-6 670.5 887.2)" fill="#fff" stroke="#000" stroke-width="1.6"/>
<path d="M662,880 Q664,868 672,870 Q678,874 679,884 Q672,880 662,886 Z" fill="#000" stroke="#000" stroke-width="0.6" stroke-linejoin="round" stroke-linecap="round" />
<line x1="657" y1="893.5" x2="680" y2="886" stroke="#000" stroke-width="1.2" stroke-linecap="butt"/>
<circle cx="553" cy="811.1" r="35.2" fill="none" stroke="#b5161f" stroke-width="2.2"/>
<path d="M370,696 L377,694 Q387,700 387,714 Q386,728 378,732 L371,732 Z" fill="#fff" stroke="#000" stroke-width="2.3" stroke-linejoin="round" stroke-linecap="round" />
<ellipse cx="370" cy="714" rx="10" ry="18" transform="rotate(-5 370 714)" fill="#fff" stroke="#000" stroke-width="2.64"/>
<ellipse cx="370.5" cy="714.5" rx="6.5" ry="13.5" transform="rotate(-5 370.5 714.5)" fill="#fff" stroke="#000" stroke-width="1.6"/>
<path d="M365,705 Q366,700 370,701 L367,722 Q364,716 365,705 Z" fill="#000" stroke="#000" stroke-width="0.5" stroke-linejoin="round" stroke-linecap="round" />
<path d="M330,699 L346,697 Q358,702 359,725 Q358,748 346,754 L330,755 Z" fill="#fff" stroke="#000" stroke-width="2.53" stroke-linejoin="round" stroke-linecap="round" />
<path d="M340,748 L356,742 Q354,751 346,754 L332,755 Z" fill="#000" stroke="#000" stroke-width="0.5" stroke-linejoin="round" stroke-linecap="round" />
<ellipse cx="330.4" cy="727" rx="17" ry="28" transform="rotate(-4 330.4 727)" fill="#fff" stroke="#000" stroke-width="2.76"/>
<ellipse cx="330.6" cy="727" rx="13.5" ry="23.5" transform="rotate(-4 330.6 727)" fill="#fff" stroke="#000" stroke-width="1.6"/>
<ellipse cx="330.8" cy="727" rx="9" ry="15.5" transform="rotate(-4 330.8 727)" fill="#fff" stroke="#000" stroke-width="2.07"/>
<ellipse cx="331" cy="727" rx="6" ry="11.5" transform="rotate(-4 331 727)" fill="#fff" stroke="#000" stroke-width="1.6"/>
<path d="M327,719 Q329,714 333,716 L333,734 Q328,732 327,719 Z" fill="#000" stroke="#000" stroke-width="0.5" stroke-linejoin="round" stroke-linecap="round" />
<ellipse cx="341.9" cy="730.4" rx="1.9" ry="2.4" fill="#fff" stroke="#000" stroke-width="1.1"/>
<ellipse cx="338.6" cy="741.0" rx="1.9" ry="2.4" fill="#fff" stroke="#000" stroke-width="1.1"/>
<ellipse cx="332.3" cy="746.3" rx="1.9" ry="2.4" fill="#fff" stroke="#000" stroke-width="1.1"/>
<ellipse cx="325.3" cy="744.2" rx="1.9" ry="2.4" fill="#fff" stroke="#000" stroke-width="1.1"/>
<ellipse cx="320.5" cy="735.5" rx="1.9" ry="2.4" fill="#fff" stroke="#000" stroke-width="1.1"/>
<ellipse cx="319.5" cy="723.6" rx="1.9" ry="2.4" fill="#fff" stroke="#000" stroke-width="1.1"/>
<ellipse cx="322.8" cy="713.0" rx="1.9" ry="2.4" fill="#fff" stroke="#000" stroke-width="1.1"/>
<ellipse cx="329.1" cy="707.7" rx="1.9" ry="2.4" fill="#fff" stroke="#000" stroke-width="1.1"/>
<ellipse cx="336.1" cy="709.8" rx="1.9" ry="2.4" fill="#fff" stroke="#000" stroke-width="1.1"/>
<ellipse cx="340.9" cy="718.5" rx="1.9" ry="2.4" fill="#fff" stroke="#000" stroke-width="1.1"/>
<ellipse cx="300" cy="739" rx="11.5" ry="24.5" transform="rotate(-14 300 739)" fill="none" stroke="#000" stroke-width="2.64"/>
<ellipse cx="276" cy="746.5" rx="12" ry="22.5" transform="rotate(-10 276 746.5)" fill="#fff" stroke="#000" stroke-width="2.53"/>
<ellipse cx="277" cy="747" rx="5" ry="12" transform="rotate(-8 277 747)" fill="#fff" stroke="#000" stroke-width="2.07"/>
<ellipse cx="255.8" cy="753" rx="5" ry="11" transform="rotate(-8 255.8 753)" fill="none" stroke="#000" stroke-width="2.99"/>
<path d="M228,745 L240,743 Q246,745 246.5,758 Q246,772 240.5,776 L229,779 Z" fill="#fff" stroke="#000" stroke-width="2.53" stroke-linejoin="round" stroke-linecap="round" />
<path d="M232,776 L245,771 Q244,775 240.5,776 L232,779 Z" fill="#000" stroke="#000" stroke-width="0.5" stroke-linejoin="round" stroke-linecap="round" />
<line x1="236" y1="773.5" x2="245.5" y2="770" stroke="#000" stroke-width="1.6" stroke-linecap="butt"/>
<ellipse cx="227.5" cy="761.5" rx="8.8" ry="16.5" transform="rotate(-8 227.5 761.5)" fill="#fff" stroke="#000" stroke-width="2.76"/>
<ellipse cx="228" cy="762" rx="6" ry="12.5" transform="rotate(-8 228 762)" fill="#fff" stroke="#000" stroke-width="1.6"/>
<path d="M223,755 Q224,750 228,750 L227,762 L222,764 Z" fill="#000" stroke="#000" stroke-width="0.5" stroke-linejoin="round" stroke-linecap="round" />
<line x1="222" y1="762" x2="233" y2="759" stroke="#000" stroke-width="1.2" stroke-linecap="butt"/>
<path d="M194,746.5 L200,746 Q207,752 208.4,768 Q208,786 201,794 L195,794.7 Z" fill="#fff" stroke="#000" stroke-width="2.3" stroke-linejoin="round" stroke-linecap="round" />
<path d="M201,770 L207,767 L207.5,780 L202,784 Z" fill="#000" stroke="#000" stroke-width="0.5" stroke-linejoin="round" stroke-linecap="round" />
<ellipse cx="191.5" cy="770.5" rx="10" ry="24.3" transform="rotate(-10 191.5 770.5)" fill="#fff" stroke="#000" stroke-width="2.64"/>
<ellipse cx="192.5" cy="771" rx="6.8" ry="19" transform="rotate(-10 192.5 771)" fill="#fff" stroke="#000" stroke-width="2.07"/>
<path d="M189,758 Q184,770 189,784 L191,783 Q187,771 191,759 Z" fill="#000" stroke="#000" stroke-width="0.6" stroke-linejoin="round" stroke-linecap="round" />
<path d="M131.9,742 Q134,737.5 140,737.5 Q144,737.5 147,741 L173.2,773 L173.2,833.7 L164,836.2 L160.6,834.6 L150,822 L131,757.8 Z" fill="#fff" stroke="#000" stroke-width="2.64" stroke-linejoin="round" stroke-linecap="round" />
<path d="M164,778 L173.2,773 L173.2,833.7 L164,836.2 Z" fill="#000" stroke="#000" stroke-width="0.8" stroke-linejoin="round" stroke-linecap="round" />
<path d="M147,741 L173,773 L164,778 L139,747 Z" fill="#fff" stroke="#000" stroke-width="1.6" stroke-linejoin="round" stroke-linecap="round" />
<path d="M134.5,745 Q139,742 141,746 Q138,748 137,754 Q134,752 134.5,745 Z" fill="#000" stroke="#000" stroke-width="1" stroke-linejoin="round" stroke-linecap="round" />
<path d="M155,772 Q158,769 163,772 L164,783 Q160,786 156,783 Z" fill="#fff" stroke="#000" stroke-width="1.6" stroke-linejoin="round" stroke-linecap="round" />
<ellipse cx="159" cy="777.5" rx="2" ry="2.6" transform="rotate(0 159 777.5)" fill="#fff" stroke="#000" stroke-width="1.3"/>
<path d="M154,821 Q158,818 163,821 L164,834 Q159,836 155,832 Z" fill="#fff" stroke="#000" stroke-width="1.6" stroke-linejoin="round" stroke-linecap="round" />
<ellipse cx="159" cy="827" rx="2" ry="2.6" transform="rotate(0 159 827)" fill="#fff" stroke="#000" stroke-width="1.3"/>
<path d="M145,790 L157,786 L158,824 L147,823 Z" fill="#000" stroke="#000" stroke-width="0.8" stroke-linejoin="round" stroke-linecap="round" />
<ellipse cx="135.3" cy="793.2" rx="14.3" ry="30.8" transform="rotate(-10 135.3 793.2)" fill="#fff" stroke="#000" stroke-width="2.76"/>
<ellipse cx="136" cy="793.5" rx="11.5" ry="27" transform="rotate(-10 136 793.5)" fill="#fff" stroke="#000" stroke-width="1.4"/>
<ellipse cx="137.5" cy="794" rx="8.5" ry="22" transform="rotate(-10 137.5 794)" fill="#fff" stroke="#000" stroke-width="2.07"/>
<path d="M125.5,790 Q126,772 135,765.5 Q141,764 144,770 Q136,772 133,781 Q131,790 132,800 L128,806 Q125,798 125.5,790 Z" fill="#000" stroke="#000" stroke-width="0.6" stroke-linejoin="round" stroke-linecap="round" />
<line x1="127" y1="795" x2="148" y2="788" stroke="#000" stroke-width="1.2" stroke-linecap="butt"/>
<ellipse cx="100.3" cy="803.4" rx="13.6" ry="19.7" transform="rotate(-6 100.3 803.4)" fill="#fff" stroke="#000" stroke-width="2.76"/>
<path d="M108,786 Q114,795 113.5,806 Q112,818 105,822" fill="none" stroke="#000" stroke-width="1.4" stroke-linejoin="round" stroke-linecap="round" />
<ellipse cx="99.8" cy="803.9" rx="6.3" ry="9.8" transform="rotate(-6 99.8 803.9)" fill="#fff" stroke="#000" stroke-width="2.99"/>
<line x1="93" y1="806" x2="107" y2="802" stroke="#000" stroke-width="1.2" stroke-linecap="butt"/>
<path d="M50,806.2 L55.6,800.6 L65,798.3 L73.4,801.6 L76.2,805.3 L78.6,819.4 L76.2,825 L64,832.5 L59.4,831 L51.9,824 L50,812.8 Z" fill="#fff" stroke="#000" stroke-width="2.64" stroke-linejoin="round" stroke-linecap="round" />
<path d="M55.6,800.6 L65,798.3 L73.4,801.6 L66,806 L56,806 Z" fill="#fff" stroke="#000" stroke-width="1.6" stroke-linejoin="round" stroke-linecap="round" />
<line x1="64" y1="806" x2="64" y2="832" stroke="#000" stroke-width="1.8" stroke-linecap="butt"/>
<line x1="64" y1="806" x2="76" y2="805" stroke="#000" stroke-width="1.4" stroke-linecap="butt"/>
<path d="M52,810 Q53,806 58,806 Q63,808 63,817 Q63,827 58,829 Q53,828 52,820 Z" fill="#000" stroke="#000" stroke-width="1" stroke-linejoin="round" stroke-linecap="round" />
<path d="M55,811 L58,812 L57,816 Z" fill="#fff" stroke="#fff" stroke-width="0.5" stroke-linejoin="round" stroke-linecap="round" />
<path d="M56,822 L60,821 L59,826 Z" fill="#fff" stroke="#fff" stroke-width="0.5" stroke-linejoin="round" stroke-linecap="round" />
<line x1="66" y1="815" x2="72" y2="813" stroke="#000" stroke-width="1.6" stroke-linecap="butt"/>
<path d="M64,826 L76,820 L76.2,825 L64,832.5 Z" fill="#000" stroke="#000" stroke-width="0.6" stroke-linejoin="round" stroke-linecap="round" />
<path d="M32.5,806 Q33,802 35.5,802 Q38,803 37.8,807 L37,838 Q35.5,842 33.5,839 Z" fill="#000" stroke="#000" stroke-width="1.2" stroke-linejoin="round" stroke-linecap="round" />
<ellipse cx="34.8" cy="805" rx="3.3" ry="3.6" transform="rotate(0 34.8 805)" fill="#fff" stroke="#000" stroke-width="2.3"/>
<ellipse cx="127" cy="837.5" rx="5.5" ry="8.5" transform="rotate(-10 127 837.5)" fill="#fff" stroke="#000" stroke-width="2.53"/>
<ellipse cx="127.3" cy="837.8" rx="2" ry="4" transform="rotate(-10 127.3 837.8)" fill="#fff" stroke="#000" stroke-width="1.4"/>
<path d="M87,847 L106,841 Q109,843 107.5,847 L89,853 Z" fill="#fff" stroke="#000" stroke-width="2.07" stroke-linejoin="round" stroke-linecap="round" />
<line x1="94.0" y1="845.5" x2="94.8" y2="850.5" stroke="#000" stroke-width="0.9" stroke-linecap="butt"/>
<line x1="96.8" y1="844.6" x2="97.6" y2="849.6" stroke="#000" stroke-width="0.9" stroke-linecap="butt"/>
<line x1="99.6" y1="843.7" x2="100.39999999999999" y2="848.7" stroke="#000" stroke-width="0.9" stroke-linecap="butt"/>
<line x1="102.4" y1="842.8" x2="103.2" y2="847.8" stroke="#000" stroke-width="0.9" stroke-linecap="butt"/>
<line x1="105.2" y1="841.9" x2="106.0" y2="846.9" stroke="#000" stroke-width="0.9" stroke-linecap="butt"/>
<path d="M76,849 L82,845 L89,846 L91,853 L89,860 L82,862 L76,859 L75,853 Z" fill="#fff" stroke="#000" stroke-width="2.3" stroke-linejoin="round" stroke-linecap="round" />
<line x1="82" y1="845" x2="83" y2="853" stroke="#000" stroke-width="1.2" stroke-linecap="butt"/>
<line x1="83" y1="853" x2="82" y2="862" stroke="#000" stroke-width="1.2" stroke-linecap="butt"/>
<path d="M515.5,880.7 Q518,870 530,867.5 L535,868 L540,872 L565,906 Q569,925 569.7,955.6 L558.5,995.4 L542.6,1000 L514,992 Q508,975 510,962 Q500,950 499.6,931.7 Q501,915 512,905 Z" fill="#fff" stroke="#000" stroke-width="2.64" stroke-linejoin="round" stroke-linecap="round" />
<path d="M535,868 L540,869 L566,905 Q571,930 571,956 L560,996 L552,999 Q560,970 560,950 Q559,925 555,905 L531,874 Z" fill="#fff" stroke="#000" stroke-width="1.4" stroke-linejoin="round" stroke-linecap="round" />
<path d="M551,958 L569,955 L559,995 L549,998 Z" fill="#000" stroke="#000" stroke-width="0.8" stroke-linejoin="round" stroke-linecap="round" />
<ellipse cx="521" cy="884.7" rx="2.6" ry="3.4" transform="rotate(0 521 884.7)" fill="#fff" stroke="#000" stroke-width="1.6"/>
<ellipse cx="545" cy="915.8" rx="2.6" ry="3.4" transform="rotate(0 545 915.8)" fill="#fff" stroke="#000" stroke-width="1.6"/>
<ellipse cx="539.4" cy="990" rx="2.6" ry="3.4" transform="rotate(0 539.4 990)" fill="#fff" stroke="#000" stroke-width="1.6"/>
<path d="M519,899 L524,897 L527,915 L522,918 Z" fill="#000" stroke="#000" stroke-width="0.8" stroke-linejoin="round" stroke-linecap="round" />
<path d="M522,918 L528,914 L532,920 L526,924 Z" fill="#fff" stroke="#000" stroke-width="1.4" stroke-linejoin="round" stroke-linecap="round" />
<path d="M508,935 Q503,950 512,960 Q520,964 526,956 Q518,958 513,952 Q508,944 511,934 Z" fill="#000" stroke="#000" stroke-width="1" stroke-linejoin="round" stroke-linecap="round" />
<path d="M530,931 L541,927 L546,932 L547,968 L537,973 L531,971 Z" fill="#000" stroke="#000" stroke-width="1" stroke-linejoin="round" stroke-linecap="round" />
<path d="M535,936 L542,933 L543,966 L536,969 Z" fill="#fff" stroke="#000" stroke-width="1.2" stroke-linejoin="round" stroke-linecap="round" />
<path d="M513,972 L519,970 L522,985 L516,988 Z" fill="#000" stroke="#000" stroke-width="0.8" stroke-linejoin="round" stroke-linecap="round" />
<path d="M520,977 L528,972 L535,979 L527,984 Z" fill="#fff" stroke="#000" stroke-width="1.4" stroke-linejoin="round" stroke-linecap="round" />
<path d="M510,980 Q512,990 520,994" fill="none" stroke="#000" stroke-width="1.2" stroke-linejoin="round" stroke-linecap="round" />
<path d="M600,905 Q600,888 612,881 Q626,877 637,885 Q644,896 643,912 Q641,926 634,930 Q622,936 608,935 Z" fill="#000" stroke="#000" stroke-width="2.53" stroke-linejoin="round" stroke-linecap="round" />
<circle cx="616" cy="889" r="1.2" fill="#fff"/>
<circle cx="624" cy="888" r="1.0" fill="#fff"/>
<circle cx="630" cy="893" r="1.1" fill="#fff"/>
<circle cx="620" cy="895" r="0.9" fill="#fff"/>
<circle cx="634" cy="899" r="0.9" fill="#fff"/>
<circle cx="626" cy="901" r="0.8" fill="#fff"/>
<ellipse cx="605.5" cy="914" rx="13" ry="20.5" transform="rotate(-10 605.5 914)" fill="#fff" stroke="#000" stroke-width="2.64"/>
<ellipse cx="606.5" cy="914.5" rx="9.5" ry="16.5" transform="rotate(-10 606.5 914.5)" fill="#000" stroke="#000" stroke-width="1.2"/>
<path d="M604,920 Q610,916 614,922 Q612,930 606,929 Z" fill="#fff" stroke="#fff" stroke-width="0.5" stroke-linejoin="round" stroke-linecap="round" />
<ellipse cx="479.3" cy="1018" rx="5.8" ry="7.5" transform="rotate(-10 479.3 1018)" fill="#fff" stroke="#000" stroke-width="2.3"/>
<ellipse cx="479.5" cy="1018.2" rx="2.2" ry="3.2" transform="rotate(-10 479.5 1018.2)" fill="#fff" stroke="#000" stroke-width="1.4"/>
<path d="M432,1031 L450.5,1025.5 Q453.5,1027 452.5,1030 L434,1036.5 Z" fill="#fff" stroke="#000" stroke-width="2.07" stroke-linejoin="round" stroke-linecap="round" />
<line x1="437.0" y1="1030.0" x2="437.6" y2="1034.6" stroke="#000" stroke-width="0.9" stroke-linecap="butt"/>
<line x1="439.4" y1="1029.3" x2="440.0" y2="1033.8999999999999" stroke="#000" stroke-width="0.9" stroke-linecap="butt"/>
<line x1="441.8" y1="1028.6" x2="442.40000000000003" y2="1033.1999999999998" stroke="#000" stroke-width="0.9" stroke-linecap="butt"/>
<line x1="444.2" y1="1027.9" x2="444.8" y2="1032.5" stroke="#000" stroke-width="0.9" stroke-linecap="butt"/>
<line x1="446.6" y1="1027.2" x2="447.20000000000005" y2="1031.8" stroke="#000" stroke-width="0.9" stroke-linecap="butt"/>
<line x1="449.0" y1="1026.5" x2="449.6" y2="1031.1" stroke="#000" stroke-width="0.9" stroke-linecap="butt"/>
<path d="M421.5,1034 L426,1030.5 L433,1031 L435,1037 L433,1043.5 L426,1045 L421.5,1042 L420.5,1038 Z" fill="#fff" stroke="#000" stroke-width="2.3" stroke-linejoin="round" stroke-linecap="round" />
<line x1="426" y1="1030.5" x2="427" y2="1038" stroke="#000" stroke-width="1.2" stroke-linecap="butt"/>
<line x1="427" y1="1038" x2="426" y2="1045" stroke="#000" stroke-width="1.2" stroke-linecap="butt"/>
<path d="M636,1139 Q641,1137 646,1134 L944.7,1009.2 L951,1029 L648,1156 Q642,1160 639,1161 Z" fill="#fff" stroke="none" stroke-width="0" stroke-linejoin="round" stroke-linecap="round" />
<path d="M630,1138 Q640,1137 650,1131 L944.7,1009.2" fill="none" stroke="#000" stroke-width="2.99" stroke-linejoin="round" stroke-linecap="round" />
<path d="M641,1163 Q646,1158 654,1154 L951,1029" fill="none" stroke="#000" stroke-width="4.14" stroke-linejoin="round" stroke-linecap="round" />
<path d="M944,1010 Q946,1004 950,1002.5 L972.5,994 Q980,995 983,1002 Q986,1012 983.7,1017.5 L980,1022 L956,1031.7 Q950,1030 947,1027 Z" fill="#000" stroke="#000" stroke-width="2.3" stroke-linejoin="round" stroke-linecap="round" />
<line x1="954.0" y1="1001.0" x2="979.0" y2="991.4" stroke="#fff" stroke-width="2.1"/>
<line x1="954.5" y1="1006.0" x2="979.5" y2="996.4" stroke="#fff" stroke-width="2.1"/>
<line x1="955.0" y1="1011.0" x2="980.0" y2="1001.4" stroke="#fff" stroke-width="2.1"/>
<line x1="955.5" y1="1016.0" x2="980.5" y2="1006.4" stroke="#fff" stroke-width="2.1"/>
<line x1="956.0" y1="1021.0" x2="981.0" y2="1011.4" stroke="#fff" stroke-width="2.1"/>
<line x1="956.5" y1="1026.0" x2="981.5" y2="1016.4" stroke="#fff" stroke-width="2.1"/>
<path d="M944.5,1012 Q950,1008 952,1015 Q952,1022 947,1026 L944,1023 Z" fill="#fff" stroke="none" stroke-width="0" stroke-linejoin="round" stroke-linecap="round" />
<path d="M595,1153 L629.5,1138 Q636,1137 640,1142 Q644,1152 642,1163 L605,1178.6 Z" fill="#000" stroke="#000" stroke-width="2.3" stroke-linejoin="round" stroke-linecap="round" />
<line x1="606.0" y1="1154.5" x2="636.0" y2="1142.2" stroke="#fff" stroke-width="2.0"/>
<line x1="606.3" y1="1158.7" x2="636.3" y2="1146.4" stroke="#fff" stroke-width="2.0"/>
<line x1="606.6" y1="1162.9" x2="636.6" y2="1150.6" stroke="#fff" stroke-width="2.0"/>
<line x1="606.9" y1="1167.1" x2="636.9" y2="1154.8" stroke="#fff" stroke-width="2.0"/>
<line x1="607.2" y1="1171.3" x2="637.2" y2="1159.0" stroke="#fff" stroke-width="2.0"/>
<line x1="607.5" y1="1175.5" x2="637.5" y2="1163.2" stroke="#fff" stroke-width="2.0"/>
<ellipse cx="599.7" cy="1166" rx="6.5" ry="13" transform="rotate(-8 599.7 1166)" fill="#fff" stroke="#000" stroke-width="2.76"/>
<line x1="580" y1="1171" x2="594" y2="1166.8" stroke="#000" stroke-width="1.2" stroke-linecap="butt"/>
<path d="M937,1176 L992,1152.5 L996,1161 L941,1185.5 Q935,1186 934.5,1181 Q935,1177 937,1176 Z" fill="#fff" stroke="#000" stroke-width="2.07" stroke-linejoin="round" stroke-linecap="round" />
<line x1="941.0" y1="1175.0" x2="942.8" y2="1183.5" stroke="#000" stroke-width="0.9" stroke-linecap="butt"/>
<line x1="943.6" y1="1173.9" x2="945.4" y2="1182.4" stroke="#000" stroke-width="0.9" stroke-linecap="butt"/>
<line x1="946.2" y1="1172.8" x2="948.0" y2="1181.3" stroke="#000" stroke-width="0.9" stroke-linecap="butt"/>
<line x1="948.8" y1="1171.7" x2="950.5999999999999" y2="1180.2" stroke="#000" stroke-width="0.9" stroke-linecap="butt"/>
<line x1="951.4" y1="1170.6" x2="953.1999999999999" y2="1179.1" stroke="#000" stroke-width="0.9" stroke-linecap="butt"/>
<line x1="954.0" y1="1169.5" x2="955.8" y2="1178.0" stroke="#000" stroke-width="0.9" stroke-linecap="butt"/>
<path d="M989,1150 L995,1147 L1001,1149 L1003,1156 L1001,1163 L995,1165.5 L990,1163 L988.5,1156 Z" fill="#fff" stroke="#000" stroke-width="2.3" stroke-linejoin="round" stroke-linecap="round" />
<line x1="995" y1="1147" x2="996" y2="1156" stroke="#000" stroke-width="1.2" stroke-linecap="butt"/>
<line x1="996" y1="1156" x2="995" y2="1165.5" stroke="#000" stroke-width="1.2" stroke-linecap="butt"/>
<ellipse cx="917.3" cy="1191" rx="7.5" ry="10.5" transform="rotate(-10 917.3 1191)" fill="#fff" stroke="#000" stroke-width="2.3"/>
<ellipse cx="917.6" cy="1191.3" rx="2.6" ry="3.6" transform="rotate(-10 917.6 1191.3)" fill="#fff" stroke="#000" stroke-width="1.5"/>
<path d="M880,1195 L898,1188.7 Q905,1190 905.6,1199 Q905.5,1209 899,1211.5 L882,1219 Z" fill="#fff" stroke="#000" stroke-width="2.42" stroke-linejoin="round" stroke-linecap="round" />
<line x1="885.0" y1="1194.5" x2="885.8" y2="1216.5" stroke="#000" stroke-width="1.3" stroke-linecap="butt"/>
<line x1="887.4" y1="1193.75" x2="888.1999999999999" y2="1215.6" stroke="#000" stroke-width="1.3" stroke-linecap="butt"/>
<line x1="889.8" y1="1193.0" x2="890.5999999999999" y2="1214.7" stroke="#000" stroke-width="1.3" stroke-linecap="butt"/>
<line x1="892.2" y1="1192.25" x2="893.0" y2="1213.8" stroke="#000" stroke-width="1.3" stroke-linecap="butt"/>
<line x1="894.6" y1="1191.5" x2="895.4" y2="1212.9" stroke="#000" stroke-width="1.3" stroke-linecap="butt"/>
<line x1="897.0" y1="1190.75" x2="897.8" y2="1212.0" stroke="#000" stroke-width="1.3" stroke-linecap="butt"/>
<line x1="899.4" y1="1190.0" x2="900.1999999999999" y2="1211.1" stroke="#000" stroke-width="1.3" stroke-linecap="butt"/>
<path d="M899,1191 Q904,1195 904,1201 Q903,1208 899,1210" fill="none" stroke="#000" stroke-width="1.6" stroke-linejoin="round" stroke-linecap="round" />
<ellipse cx="878" cy="1208" rx="6.6" ry="12.4" transform="rotate(-8 878 1208)" fill="#fff" stroke="#000" stroke-width="2.88"/>
<ellipse cx="878.3" cy="1208.3" rx="3.3" ry="6.2" transform="rotate(-8 878.3 1208.3)" fill="#fff" stroke="#000" stroke-width="2.3"/>
<path d="M845,1217 L862,1211.5 Q867,1213 867,1218 Q866,1222 862,1223.5 L847,1229 Z" fill="#fff" stroke="#000" stroke-width="2.07" stroke-linejoin="round" stroke-linecap="round" />
<ellipse cx="845.5" cy="1223" rx="4.5" ry="6" transform="rotate(-15 845.5 1223)" fill="#fff" stroke="#000" stroke-width="2.07"/>
<ellipse cx="845.7" cy="1223" rx="1.8" ry="2.6" transform="rotate(-15 845.7 1223)" fill="#fff" stroke="#000" stroke-width="1.2"/>
<path d="M719.0,1266.7 L728.5,1265.5 Q732.0,1269.6 732.0,1274.5 L732.0,1279.4 Q731.0,1284.8 727.5,1286.5 L719.0,1286.3 Z" fill="#fff" stroke="#000" stroke-width="2.07" stroke-linejoin="round" stroke-linecap="round" />
<line x1="728.0" y1="1269.2" x2="728.0" y2="1283.8" stroke="#000" stroke-width="1.3" stroke-linecap="butt"/>
<path d="M721.0,1284.3 L727.5,1282.9 Q730.5,1281.4 731.5,1279.4 Q731.0,1284.8 727.5,1286.3 L719.0,1286.3 Z" fill="#000" stroke="#000" stroke-width="0.5" stroke-linejoin="round" stroke-linecap="round" />
<ellipse cx="719" cy="1276.5" rx="5.6" ry="9.8" transform="rotate(0 719 1276.5)" fill="#fff" stroke="#000" stroke-width="2.18"/>
<ellipse cx="719.3" cy="1276.5" rx="2.8" ry="4.9" transform="rotate(0 719.3 1276.5)" fill="#000" stroke="#000" stroke-width="1.0"/>
<ellipse cx="719.8" cy="1277.5" rx="0.8" ry="2.0" transform="rotate(0 719.8 1277.5)" fill="#fff" stroke="#fff" stroke-width="0.4"/>
<ellipse cx="752" cy="1263.6" rx="7.5" ry="11" transform="rotate(-10 752 1263.6)" fill="#fff" stroke="#000" stroke-width="2.3"/>
<ellipse cx="752.3" cy="1263.8" rx="2.5" ry="4" transform="rotate(-10 752.3 1263.8)" fill="#fff" stroke="#000" stroke-width="1.4"/>
<line x1="749" y1="1264" x2="755" y2="1263" stroke="#000" stroke-width="1.2" stroke-linecap="butt"/>
<path d="M800,1229 L811,1226.5 Q818,1229 818,1238 Q817,1247 811,1250 L801,1251 Z" fill="#fff" stroke="#000" stroke-width="2.53" stroke-linejoin="round" stroke-linecap="round" />
<path d="M806,1249 L816,1244 Q815,1249 811,1250 Z" fill="#000" stroke="#000" stroke-width="0.5" stroke-linejoin="round" stroke-linecap="round" />
<path d="M793.5,1256 Q794,1252 799,1251.5 L819,1249.5 Q822.5,1251 823,1255 L844.5,1335 Q845.5,1341 841,1343.5 L815,1348.5 Q810.5,1348.5 810,1345 Z" fill="#000" stroke="#000" stroke-width="2.53" stroke-linejoin="round" stroke-linecap="round" />
<path d="M799.5,1256 Q800,1254 803,1253.8 L816,1252.3 L838.5,1336 Q838.5,1339.5 835,1340.5 L819,1344.8 Q816,1345.5 815.5,1342 Z" fill="#fff" stroke="none" stroke-width="0" stroke-linejoin="round" stroke-linecap="round" />
<path d="M805.6,1258.5 L819,1256 L819.8,1261.5 L806.5,1263.5 Z" fill="#000" stroke="#000" stroke-width="0.5" stroke-linejoin="round" stroke-linecap="round" />
<line x1="818.5" y1="1275" x2="832.5" y2="1328" stroke="#000" stroke-width="1.3" stroke-linecap="butt"/>
<path d="M817,1348 L840.5,1343 L849.5,1381 L828.5,1388 Z" fill="#000" stroke="#000" stroke-width="2.3" stroke-linejoin="round" stroke-linecap="round" />
<path d="M823.5,1349.5 L837,1346.5 L845,1382 L831.5,1386 Z" fill="#fff" stroke="none" stroke-width="0" stroke-linejoin="round" stroke-linecap="round" />
<line x1="836" y1="1353" x2="842" y2="1376" stroke="#000" stroke-width="1.1" stroke-linecap="butt"/>
<path d="M832,1388 L848,1383 Q855,1386 855,1395 Q854,1405 848,1407 L836,1410 Z" fill="#fff" stroke="#000" stroke-width="2.3" stroke-linejoin="round" stroke-linecap="round" />
<path d="M845,1406 L854,1399 Q853,1405 848,1407 Z" fill="#000" stroke="#000" stroke-width="0.5" stroke-linejoin="round" stroke-linecap="round" />
<ellipse cx="835.5" cy="1398.5" rx="7.5" ry="11.2" transform="rotate(-10 835.5 1398.5)" fill="#fff" stroke="#000" stroke-width="2.53"/>
<ellipse cx="835.8" cy="1398.8" rx="3.3" ry="5" transform="rotate(-10 835.8 1398.8)" fill="#fff" stroke="#000" stroke-width="1.5"/>
<ellipse cx="800.5" cy="1240" rx="7.7" ry="11.2" transform="rotate(-10 800.5 1240)" fill="#fff" stroke="#000" stroke-width="2.64"/>
<ellipse cx="800.8" cy="1240.5" rx="4.6" ry="7.6" transform="rotate(-10 800.8 1240.5)" fill="#fff" stroke="#000" stroke-width="1.6"/>
<path d="M797,1236 Q799,1233 803,1234 L802,1245 Q797,1243 797,1236 Z" fill="#000" stroke="#000" stroke-width="0.5" stroke-linejoin="round" stroke-linecap="round" />
<path d="M757,1426 L781,1416.5 Q785,1417 784.5,1421 L760,1433 Z" fill="#fff" stroke="#000" stroke-width="2.07" stroke-linejoin="round" stroke-linecap="round" />
<line x1="766.0" y1="1420.5" x2="767.5" y2="1428.5" stroke="#000" stroke-width="1.0" stroke-linecap="butt"/>
<line x1="769.2" y1="1419.3" x2="770.7" y2="1427.2" stroke="#000" stroke-width="1.0" stroke-linecap="butt"/>
<line x1="772.4" y1="1418.1" x2="773.9" y2="1425.9" stroke="#000" stroke-width="1.0" stroke-linecap="butt"/>
<line x1="775.6" y1="1416.9" x2="777.1" y2="1424.6" stroke="#000" stroke-width="1.0" stroke-linecap="butt"/>
<line x1="778.8" y1="1415.7" x2="780.3" y2="1423.3" stroke="#000" stroke-width="1.0" stroke-linecap="butt"/>
<path d="M754,1435 L759,1431 L760,1450 L754,1458 Z" fill="#000" stroke="#000" stroke-width="0.6" stroke-linejoin="round" stroke-linecap="round" />
<path d="M715,1343 Q716,1339 720,1339 L726,1338.5 Q729,1339 730,1340 L733,1346 L737,1355 L740,1364 L744,1365.5 L750,1367 L754,1371 L757,1376 L756,1380 L761,1382 L764,1386 L765,1392 L764,1400 L760,1420 L756,1438 L752,1453 L748,1460 L743,1464 L738,1465 L732,1460 L725,1453 L723,1448 L720,1410 L718,1380 L715,1350 Z" fill="#fff" stroke="#000" stroke-width="2.53" stroke-linejoin="round" stroke-linecap="round" />
<path d="M721,1342 Q727,1343 730,1350 L736,1363 Q738,1372 742,1375" fill="none" stroke="#000" stroke-width="1.5" stroke-linejoin="round" stroke-linecap="round" />
<path d="M757,1384 Q761,1387 761,1393 L756,1420 L748,1458" fill="none" stroke="#000" stroke-width="1.5" stroke-linejoin="round" stroke-linecap="round" />
<path d="M739,1368 L748,1366 L753,1371 L755,1376 L752,1382 L744,1382 L740,1376 Z" fill="#000" stroke="#000" stroke-width="0.8" stroke-linejoin="round" stroke-linecap="round" />
<ellipse cx="752" cy="1394" rx="2.6" ry="3.2" transform="rotate(0 752 1394)" fill="#fff" stroke="#000" stroke-width="1.6"/>
<path d="M721,1352 Q723,1349 725,1352 L725,1360 Q723,1362 721,1359 Z" fill="#000" stroke="#000" stroke-width="0.8" stroke-linejoin="round" stroke-linecap="round" />
<ellipse cx="723" cy="1356" rx="1.3" ry="1.6" transform="rotate(0 723 1356)" fill="#fff" stroke="#fff" stroke-width="0.5"/>
<line x1="718" y1="1350" x2="720" y2="1390" stroke="#000" stroke-width="1.1" stroke-linecap="butt"/>
<line x1="726" y1="1378" x2="728" y2="1408" stroke="#000" stroke-width="0.9" stroke-linecap="butt"/>
<line x1="733" y1="1393" x2="734" y2="1424" stroke="#000" stroke-width="0.9" stroke-linecap="butt"/>
<path d="M733,1435 Q736,1440 735,1447" fill="none" stroke="#000" stroke-width="1.4" stroke-linejoin="round" stroke-linecap="round" />
<line x1="718" y1="1387" x2="719" y2="1392" stroke="#000" stroke-width="2.5" stroke-linecap="butt"/>
<ellipse cx="896" cy="1371.2" rx="7.2" ry="11.5" transform="rotate(-10 896 1371.2)" fill="#fff" stroke="#000" stroke-width="2.3"/>
<ellipse cx="896.3" cy="1371.5" rx="3" ry="4.5" transform="rotate(-10 896.3 1371.5)" fill="#fff" stroke="#000" stroke-width="1.5"/>
<line x1="889" y1="1372" x2="903" y2="1370" stroke="#000" stroke-width="1.1" stroke-linecap="butt"/>
<path d="M916,1350 L922,1345 L932,1345 L938.5,1352 L938,1362 L932,1368 L922,1368.5 L916,1362 Z" fill="#fff" stroke="#000" stroke-width="2.3" stroke-linejoin="round" stroke-linecap="round" />
<ellipse cx="923.5" cy="1358" rx="4.2" ry="6" transform="rotate(0 923.5 1358)" fill="#fff" stroke="#000" stroke-width="1.6"/>
<path d="M931,1349 L936,1350 L937,1361 L932,1362 Z" fill="#fff" stroke="#000" stroke-width="1.4" stroke-linejoin="round" stroke-linecap="round" />
<path d="M954.5,1333 Q955,1329 957.5,1330 L958.5,1357 L956,1357 Z" fill="#000" stroke="#000" stroke-width="1.6" stroke-linejoin="round" stroke-linecap="round" />
<ellipse cx="956.8" cy="1332.5" rx="1.8" ry="2.8" transform="rotate(0 956.8 1332.5)" fill="#fff" stroke="#000" stroke-width="1.2"/>
<circle cx="438" cy="828" r="0.9" fill="#333"/>
<g>
<path d="M182.0,226.3 L186.6,224.0 L186.6,241.4" fill="none" stroke="#000" stroke-width="2.7" stroke-linejoin="miter"/>
<text class="l" transform="translate(199.2,241.4) scale(0.9,1)" fill="#000">0</text>
<path d="M360.7,322.3 L365.3,320.0 L365.3,337.4" fill="none" stroke="#000" stroke-width="2.7" stroke-linejoin="miter"/>
<path d="M373.5,322.3 L378.1,320.0 L378.1,337.4" fill="none" stroke="#000" stroke-width="2.7" stroke-linejoin="miter"/>
<path d="M415.2,424.6 L419.8,422.3 L419.8,439.7" fill="none" stroke="#000" stroke-width="2.7" stroke-linejoin="miter"/>
<text class="l" transform="translate(432.4,439.7) scale(0.9,1)" fill="#000">2</text>
<text class="l" transform="translate(656.5,444.0) scale(0.9,1)" fill="#000">6</text>
<text class="l" transform="translate(764.5,407.0) scale(0.9,1)" fill="#000">5</text>
<path d="M952.6,627.9 L957.2,625.6 L957.2,643.0" fill="none" stroke="#000" stroke-width="2.7" stroke-linejoin="miter"/>
<text class="l" transform="translate(917.0,654.0) scale(0.9,1)" fill="#000">2</text>
<text class="l" transform="translate(862.5,677.0) scale(0.9,1)" fill="#000">3</text>
<text class="l" transform="translate(786.5,704.0) scale(0.9,1)" fill="#000">4</text>
<text class="l" transform="translate(452.5,533.0) scale(0.9,1)" fill="#000">9</text>
<text class="l" transform="translate(340.5,575.0) scale(0.9,1)" fill="#000">26</text>
<text class="l" transform="translate(371.5,564.0) scale(0.9,1)" fill="#000">25</text>
<text class="l" transform="translate(564.0,571.0) scale(0.9,1)" fill="#000">24</text>
<path d="M261.2,640.4 L265.8,638.1 L265.8,655.5" fill="none" stroke="#000" stroke-width="2.7" stroke-linejoin="miter"/>
<text class="l" transform="translate(278.4,655.5) scale(0.9,1)" fill="#000">6</text>
<path d="M286.7,657.9 L291.3,655.6 L291.3,673.0" fill="none" stroke="#000" stroke-width="2.7" stroke-linejoin="miter"/>
<text class="l" transform="translate(303.9,673.0) scale(0.9,1)" fill="#000">5</text>
<path d="M244.7,675.4 L249.3,673.1 L249.3,690.5" fill="none" stroke="#000" stroke-width="2.7" stroke-linejoin="miter"/>
<text class="l" transform="translate(261.9,690.5) scale(0.9,1)" fill="#000">7</text>
<path d="M324.7,815.9 L329.3,813.6 L329.3,831.0" fill="none" stroke="#000" stroke-width="2.7" stroke-linejoin="miter"/>
<text class="l" transform="translate(341.9,831.0) scale(0.9,1)" fill="#000">4</text>
<path d="M361.2,803.9 L365.8,801.6 L365.8,819.0" fill="none" stroke="#000" stroke-width="2.7" stroke-linejoin="miter"/>
<text class="l" transform="translate(378.4,819.0) scale(0.9,1)" fill="#000">3</text>
<text class="l" transform="translate(418.0,804.0) scale(0.9,1)" fill="#000">7</text>
<text class="l" transform="translate(33.0,774.5) scale(0.9,1)" fill="#000">34</text>
<text class="l" transform="translate(65.7,763.0) scale(0.9,1)" fill="#000">33</text>
<text class="l" transform="translate(98.2,751.0) scale(0.9,1)" fill="#000">32</text>
<text class="l" transform="translate(152.7,716.0) scale(0.9,1)" fill="#000">20</text>
<path d="M184.2,699.9 L188.8,697.6 L188.8,715.0" fill="none" stroke="#000" stroke-width="2.7" stroke-linejoin="miter"/>
<text class="l" transform="translate(201.4,715.0) scale(0.9,1)" fill="#000">9</text>
<path d="M216.2,687.4 L220.8,685.1 L220.8,702.5" fill="none" stroke="#000" stroke-width="2.7" stroke-linejoin="miter"/>
<text class="l" transform="translate(233.4,702.5) scale(0.9,1)" fill="#000">8</text>
<text class="l" transform="translate(97.0,907.0) scale(0.9,1)" fill="#000">22</text>
<text class="l" transform="translate(123.6,895.0) scale(0.9,1)" fill="#000">2</text>
<path d="M132.0,879.9 L136.6,877.6 L136.6,895.0" fill="none" stroke="#000" stroke-width="2.7" stroke-linejoin="miter"/>
<text class="l" transform="translate(564.6,819.0) scale(0.9,1)" fill="#000">23</text>
<text class="l" transform="translate(624.7,1025.6) scale(0.9,1)" fill="#000">27</text>
<text class="l" transform="translate(543.8,1058.4) scale(0.9,1)" fill="#000">29</text>
<text class="l" transform="translate(438.3,1104.0) scale(0.9,1)" fill="#000">30</text>
<text class="l" transform="translate(474.4,1084.6) scale(0.9,1)" fill="#000">3</text>
<path d="M482.8,1069.5 L487.4,1067.2 L487.4,1084.6" fill="none" stroke="#000" stroke-width="2.7" stroke-linejoin="miter"/>
<text class="l" transform="translate(664.3,1238.2) scale(0.9,1)" fill="#000">28</text>
<text class="l" transform="translate(966.4,1131.0) scale(0.9,1)" fill="#000">39</text>
<text class="l" transform="translate(918.0,1152.3) scale(0.9,1)" fill="#000">36</text>
<text class="l" transform="translate(882.7,1167.4) scale(0.9,1)" fill="#000">40</text>
<text class="l" transform="translate(844.8,1181.7) scale(0.9,1)" fill="#000">4</text>
<path d="M853.2,1166.6 L857.8,1164.3 L857.8,1181.7" fill="none" stroke="#000" stroke-width="2.7" stroke-linejoin="miter"/>
<text class="l" transform="translate(706.3,1240.2) scale(0.9,1)" fill="#000">4</text>
<text class="l" transform="translate(721.8,1240.2) scale(0.9,1)" fill="#000">3</text>
<text class="l" transform="translate(746.0,1226.0) scale(0.9,1)" fill="#000">42</text>
<text class="l" transform="translate(847.6,1467.8) scale(0.9,1)" fill="#000">35</text>
<text class="l" transform="translate(746.8,1517.0) scale(0.9,1)" fill="#000">8</text>
<text class="l" transform="translate(899.5,1442.0) scale(0.9,1)" fill="#000">36</text>
<text class="l" transform="translate(932.5,1425.0) scale(0.9,1)" fill="#000">37</text>
<text class="l" transform="translate(964.0,1409.0) scale(0.9,1)" fill="#000">38</text>
</g>
<g id="logo">
<defs>
<clipPath id="cc"><circle cx="967.3" cy="1500" r="99.5"/></clipPath>
<path id="arcT" d="M909,1445 Q967,1428 1025,1445"/>
</defs>
<g opacity="1">
<circle cx="967.3" cy="1500" r="99.5" fill="#c88a8b"/>
<g clip-path="url(#cc)">
<path d="M868,1400 L1067,1400 L1067,1430 L1028,1422 L906,1430 L868,1440 Z" fill="#cc9091"/>
<path d="M868,1430 L906,1428 L906,1488 L868,1500 Z" fill="#b47576"/>
<path d="M868,1500 L906,1488 L906,1494 L868,1507 Z" fill="#a46465"/>
<path d="M868,1507 L906,1494 L906,1560 L868,1560 Z" fill="#ba8083"/>
<path d="M868,1560 L920,1565 L960,1600 L868,1600 Z" fill="#c68f91"/>
<path d="M1028,1422 L1067,1430 L1067,1456 L1028,1463 Z" fill="#bd7b7c"/>
<path d="M1028,1463 L1067,1456 L1067,1538 L1028,1548 Z" fill="#dba7a9"/>
<path d="M1028,1548 L1067,1538 L1067,1600 L985,1600 L1000,1575 Z" fill="#bc8079"/>
<path d="M975,1600 L1000,1575 L1028,1548 L1030,1556 L1005,1585 L990,1600 Z" fill="#a86c68"/>
<path d="M880,1560 L900,1575 M885,1553 L905,1568 M892,1546 L910,1560" stroke="#9d6062" stroke-width="1.5"/>
</g>
<!-- shield -->
<path d="M905,1429 Q967,1406 1029,1429 L1029,1528 Q1026,1560 968,1583 Q909,1560 905,1528 Z" fill="#6f6f73"/>
<path d="M909,1451 Q967,1439 1025,1451 L1025,1527 Q1022,1556 968,1578 Q913,1556 909,1527 Z" fill="#d8d4bb"/>
<rect x="950.5" y="1440" width="33.5" height="24" fill="#c9474b"/>
<path d="M950.5,1542 L984,1542 L984,1574 L968,1580 L950.5,1574 Z" fill="#c9474b" stroke="#6f6f73" stroke-width="1.6"/>
<!-- D -->
<path d="M921.5,1459 L955,1459 Q967.5,1459 967.5,1472 L967.5,1510 Q967.5,1523 955,1523 L921.5,1523 Z M935.5,1472 L935.5,1510 L952,1510 Q955,1510 955,1506 L955,1476 Q955,1472 952,1472 Z" fill="#6b6b70" fill-rule="evenodd" stroke="#e8c8c0" stroke-width="0.8"/>
<!-- C -->
<path d="M981,1459 L1004,1459 Q1016.5,1459 1016.5,1472 L1016.5,1485 L998,1485 L998,1474 Q998,1472 995,1472 L986,1472 Q983,1472 983,1475 L983,1507 Q983,1510 986,1510 L995,1510 Q998,1510 998,1507 L998,1497 L1016.5,1497 L1016.5,1510 Q1016.5,1523 1004,1523 L981,1523 Q968.5,1523 968.5,1510 L968.5,1472 Q968.5,1459 981,1459 Z" fill="#6b6b70" stroke="#e8c8c0" stroke-width="0.8"/>
<!-- AUTO -->
<text x="968.5" y="1539" fill="none" stroke="#6b6b70" stroke-width="0.9" style="font-size:13.5px;letter-spacing:4px;font-family:'Liberation Sans',sans-serif;text-anchor:middle" textLength="86" lengthAdjust="spacingAndGlyphs">AUTO</text>
<!-- DCAUTO.COM -->
<text fill="#f4f2ee" style="font-size:15.5px;font-weight:bold;font-family:'Liberation Sans',sans-serif;text-anchor:middle" textLength="110"><textPath href="#arcT" startOffset="50%" textLength="110" lengthAdjust="spacingAndGlyphs">DCAUTO.COM</textPath></text>
</g>
</g>

<g clip-path="url(#cc)" fill="#4a1518" opacity="0.9">
<text class="m" transform="translate(899.5,1442) scale(0.9,1)">36</text>
<text class="m" transform="translate(932.5,1425) scale(0.9,1)">37</text>
<text class="m" transform="translate(964,1409) scale(0.9,1)">38</text>
</g>
</svg>
</body></html>
